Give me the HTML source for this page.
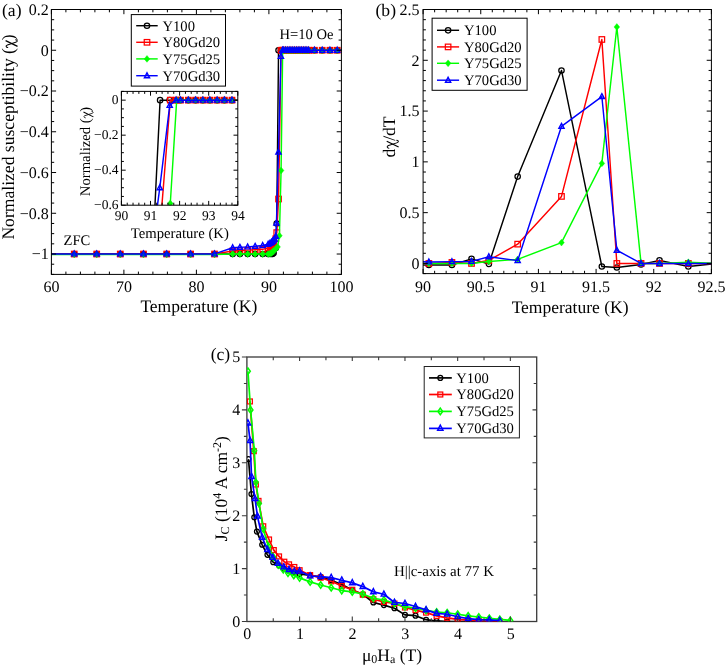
<!DOCTYPE html>
<html><head><meta charset="utf-8"><title>figure</title>
<style>html,body{margin:0;padding:0;background:#fff;}svg{display:block}text{font-family:"Liberation Serif",serif;fill:#000;text-rendering:geometricPrecision}</style>
</head><body>
<svg width="725" height="665" viewBox="0 0 725 665">
<rect width="725" height="665" fill="#fff"/>
<g style="will-change:transform">
<defs>
<clipPath id="ca"><rect x="51.4" y="9.5" width="290.0" height="264.9"/></clipPath>
</defs>
<g clip-path="url(#ca)">
<path d="M29.65 254.02 L74.24 254.02 L96.71 254.02 L120.28 254.02 L143.48 254.02 L166.68 254.02 L190.60 254.02 L214.53 254.02 L232.65 254.02 L239.90 254.02 L247.66 254.02 L255.12 254.02 L262.67 254.02 L268.18 254.02 L269.99 254.02 L271.44 254.02 L272.52 254.02 L273.61 253.00 L275.79 247.91 L276.73 223.46 L278.54 50.25 L280.93 50.25 L282.53 50.25 L283.62 50.25 L285.57 50.25 L287.39 50.25 L289.20 50.25 L290.94 50.25 L292.75 50.25 L294.57 50.25 L296.45 50.25 L298.19 50.25 L299.93 50.25 L301.67 50.25 L303.41 50.25 L305.15 50.25 L306.89 50.25 L308.63 50.25 L314.43 50.25 L322.19 50.25 L329.94 50.25 L337.19 50.25 L345.02 50.25" fill="none" stroke="#000000" stroke-width="1.45" stroke-linejoin="round"/>
<circle cx="29.65" cy="254.02" r="2.70" fill="none" stroke="#000000" stroke-width="1.25"/>
<circle cx="74.24" cy="254.02" r="2.70" fill="none" stroke="#000000" stroke-width="1.25"/>
<circle cx="96.71" cy="254.02" r="2.70" fill="none" stroke="#000000" stroke-width="1.25"/>
<circle cx="120.28" cy="254.02" r="2.70" fill="none" stroke="#000000" stroke-width="1.25"/>
<circle cx="143.48" cy="254.02" r="2.70" fill="none" stroke="#000000" stroke-width="1.25"/>
<circle cx="166.68" cy="254.02" r="2.70" fill="none" stroke="#000000" stroke-width="1.25"/>
<circle cx="190.60" cy="254.02" r="2.70" fill="none" stroke="#000000" stroke-width="1.25"/>
<circle cx="214.53" cy="254.02" r="2.70" fill="none" stroke="#000000" stroke-width="1.25"/>
<circle cx="232.65" cy="254.02" r="2.70" fill="none" stroke="#000000" stroke-width="1.25"/>
<circle cx="239.90" cy="254.02" r="2.70" fill="none" stroke="#000000" stroke-width="1.25"/>
<circle cx="247.66" cy="254.02" r="2.70" fill="none" stroke="#000000" stroke-width="1.25"/>
<circle cx="255.12" cy="254.02" r="2.70" fill="none" stroke="#000000" stroke-width="1.25"/>
<circle cx="262.67" cy="254.02" r="2.70" fill="none" stroke="#000000" stroke-width="1.25"/>
<circle cx="268.18" cy="254.02" r="2.70" fill="none" stroke="#000000" stroke-width="1.25"/>
<circle cx="269.99" cy="254.02" r="2.70" fill="none" stroke="#000000" stroke-width="1.25"/>
<circle cx="271.44" cy="254.02" r="2.70" fill="none" stroke="#000000" stroke-width="1.25"/>
<circle cx="272.52" cy="254.02" r="2.70" fill="none" stroke="#000000" stroke-width="1.25"/>
<circle cx="273.61" cy="253.00" r="2.70" fill="none" stroke="#000000" stroke-width="1.25"/>
<circle cx="275.79" cy="247.91" r="2.70" fill="none" stroke="#000000" stroke-width="1.25"/>
<circle cx="276.73" cy="223.46" r="2.70" fill="none" stroke="#000000" stroke-width="1.25"/>
<circle cx="278.54" cy="50.25" r="2.70" fill="none" stroke="#000000" stroke-width="1.25"/>
<circle cx="280.93" cy="50.25" r="2.70" fill="none" stroke="#000000" stroke-width="1.25"/>
<circle cx="282.53" cy="50.25" r="2.70" fill="none" stroke="#000000" stroke-width="1.25"/>
<circle cx="283.62" cy="50.25" r="2.70" fill="none" stroke="#000000" stroke-width="1.25"/>
<circle cx="285.57" cy="50.25" r="2.70" fill="none" stroke="#000000" stroke-width="1.25"/>
<circle cx="287.39" cy="50.25" r="2.70" fill="none" stroke="#000000" stroke-width="1.25"/>
<circle cx="289.20" cy="50.25" r="2.70" fill="none" stroke="#000000" stroke-width="1.25"/>
<circle cx="290.94" cy="50.25" r="2.70" fill="none" stroke="#000000" stroke-width="1.25"/>
<circle cx="292.75" cy="50.25" r="2.70" fill="none" stroke="#000000" stroke-width="1.25"/>
<circle cx="294.57" cy="50.25" r="2.70" fill="none" stroke="#000000" stroke-width="1.25"/>
<circle cx="296.45" cy="50.25" r="2.70" fill="none" stroke="#000000" stroke-width="1.25"/>
<circle cx="298.19" cy="50.25" r="2.70" fill="none" stroke="#000000" stroke-width="1.25"/>
<circle cx="299.93" cy="50.25" r="2.70" fill="none" stroke="#000000" stroke-width="1.25"/>
<circle cx="301.67" cy="50.25" r="2.70" fill="none" stroke="#000000" stroke-width="1.25"/>
<circle cx="303.41" cy="50.25" r="2.70" fill="none" stroke="#000000" stroke-width="1.25"/>
<circle cx="305.15" cy="50.25" r="2.70" fill="none" stroke="#000000" stroke-width="1.25"/>
<circle cx="306.89" cy="50.25" r="2.70" fill="none" stroke="#000000" stroke-width="1.25"/>
<circle cx="308.63" cy="50.25" r="2.70" fill="none" stroke="#000000" stroke-width="1.25"/>
<circle cx="314.43" cy="50.25" r="2.70" fill="none" stroke="#000000" stroke-width="1.25"/>
<circle cx="322.19" cy="50.25" r="2.70" fill="none" stroke="#000000" stroke-width="1.25"/>
<circle cx="329.94" cy="50.25" r="2.70" fill="none" stroke="#000000" stroke-width="1.25"/>
<circle cx="337.19" cy="50.25" r="2.70" fill="none" stroke="#000000" stroke-width="1.25"/>
<circle cx="345.02" cy="50.25" r="2.70" fill="none" stroke="#000000" stroke-width="1.25"/>
<path d="M29.65 254.02 L74.24 254.02 L96.71 254.02 L120.28 254.02 L143.48 254.02 L166.68 254.02 L190.60 254.02 L214.53 254.02 L232.65 250.97 L239.90 250.56 L247.66 250.15 L255.12 249.74 L262.67 249.34 L268.18 247.91 L269.99 246.89 L271.44 245.87 L272.52 244.85 L273.61 243.83 L275.79 238.74 L276.73 232.63 L278.54 199.01 L281.08 50.25 L282.53 50.25 L283.62 50.25 L285.57 50.25 L287.39 50.25 L289.20 50.25 L290.94 50.25 L292.75 50.25 L294.57 50.25 L296.45 50.25 L298.19 50.25 L299.93 50.25 L301.67 50.25 L303.41 50.25 L305.15 50.25 L306.89 50.25 L308.63 50.25 L314.43 50.25 L322.19 50.25 L329.94 50.25 L337.19 50.25 L345.02 50.25" fill="none" stroke="#ff0000" stroke-width="1.45" stroke-linejoin="round"/>
<rect x="26.90" y="251.27" width="5.50" height="5.50" fill="none" stroke="#ff0000" stroke-width="1.25"/>
<rect x="71.49" y="251.27" width="5.50" height="5.50" fill="none" stroke="#ff0000" stroke-width="1.25"/>
<rect x="93.96" y="251.27" width="5.50" height="5.50" fill="none" stroke="#ff0000" stroke-width="1.25"/>
<rect x="117.53" y="251.27" width="5.50" height="5.50" fill="none" stroke="#ff0000" stroke-width="1.25"/>
<rect x="140.73" y="251.27" width="5.50" height="5.50" fill="none" stroke="#ff0000" stroke-width="1.25"/>
<rect x="163.93" y="251.27" width="5.50" height="5.50" fill="none" stroke="#ff0000" stroke-width="1.25"/>
<rect x="187.85" y="251.27" width="5.50" height="5.50" fill="none" stroke="#ff0000" stroke-width="1.25"/>
<rect x="211.78" y="251.27" width="5.50" height="5.50" fill="none" stroke="#ff0000" stroke-width="1.25"/>
<rect x="229.90" y="248.22" width="5.50" height="5.50" fill="none" stroke="#ff0000" stroke-width="1.25"/>
<rect x="237.15" y="247.81" width="5.50" height="5.50" fill="none" stroke="#ff0000" stroke-width="1.25"/>
<rect x="244.91" y="247.40" width="5.50" height="5.50" fill="none" stroke="#ff0000" stroke-width="1.25"/>
<rect x="252.37" y="246.99" width="5.50" height="5.50" fill="none" stroke="#ff0000" stroke-width="1.25"/>
<rect x="259.92" y="246.59" width="5.50" height="5.50" fill="none" stroke="#ff0000" stroke-width="1.25"/>
<rect x="265.43" y="245.16" width="5.50" height="5.50" fill="none" stroke="#ff0000" stroke-width="1.25"/>
<rect x="267.24" y="244.14" width="5.50" height="5.50" fill="none" stroke="#ff0000" stroke-width="1.25"/>
<rect x="268.69" y="243.12" width="5.50" height="5.50" fill="none" stroke="#ff0000" stroke-width="1.25"/>
<rect x="269.77" y="242.10" width="5.50" height="5.50" fill="none" stroke="#ff0000" stroke-width="1.25"/>
<rect x="270.86" y="241.08" width="5.50" height="5.50" fill="none" stroke="#ff0000" stroke-width="1.25"/>
<rect x="273.04" y="235.99" width="5.50" height="5.50" fill="none" stroke="#ff0000" stroke-width="1.25"/>
<rect x="273.98" y="229.88" width="5.50" height="5.50" fill="none" stroke="#ff0000" stroke-width="1.25"/>
<rect x="275.79" y="196.26" width="5.50" height="5.50" fill="none" stroke="#ff0000" stroke-width="1.25"/>
<rect x="278.33" y="47.50" width="5.50" height="5.50" fill="none" stroke="#ff0000" stroke-width="1.25"/>
<rect x="279.78" y="47.50" width="5.50" height="5.50" fill="none" stroke="#ff0000" stroke-width="1.25"/>
<rect x="280.87" y="47.50" width="5.50" height="5.50" fill="none" stroke="#ff0000" stroke-width="1.25"/>
<rect x="282.82" y="47.50" width="5.50" height="5.50" fill="none" stroke="#ff0000" stroke-width="1.25"/>
<rect x="284.64" y="47.50" width="5.50" height="5.50" fill="none" stroke="#ff0000" stroke-width="1.25"/>
<rect x="286.45" y="47.50" width="5.50" height="5.50" fill="none" stroke="#ff0000" stroke-width="1.25"/>
<rect x="288.19" y="47.50" width="5.50" height="5.50" fill="none" stroke="#ff0000" stroke-width="1.25"/>
<rect x="290.00" y="47.50" width="5.50" height="5.50" fill="none" stroke="#ff0000" stroke-width="1.25"/>
<rect x="291.82" y="47.50" width="5.50" height="5.50" fill="none" stroke="#ff0000" stroke-width="1.25"/>
<rect x="293.70" y="47.50" width="5.50" height="5.50" fill="none" stroke="#ff0000" stroke-width="1.25"/>
<rect x="295.44" y="47.50" width="5.50" height="5.50" fill="none" stroke="#ff0000" stroke-width="1.25"/>
<rect x="297.18" y="47.50" width="5.50" height="5.50" fill="none" stroke="#ff0000" stroke-width="1.25"/>
<rect x="298.92" y="47.50" width="5.50" height="5.50" fill="none" stroke="#ff0000" stroke-width="1.25"/>
<rect x="300.66" y="47.50" width="5.50" height="5.50" fill="none" stroke="#ff0000" stroke-width="1.25"/>
<rect x="302.40" y="47.50" width="5.50" height="5.50" fill="none" stroke="#ff0000" stroke-width="1.25"/>
<rect x="304.14" y="47.50" width="5.50" height="5.50" fill="none" stroke="#ff0000" stroke-width="1.25"/>
<rect x="305.88" y="47.50" width="5.50" height="5.50" fill="none" stroke="#ff0000" stroke-width="1.25"/>
<rect x="311.68" y="47.50" width="5.50" height="5.50" fill="none" stroke="#ff0000" stroke-width="1.25"/>
<rect x="319.44" y="47.50" width="5.50" height="5.50" fill="none" stroke="#ff0000" stroke-width="1.25"/>
<rect x="327.19" y="47.50" width="5.50" height="5.50" fill="none" stroke="#ff0000" stroke-width="1.25"/>
<rect x="334.44" y="47.50" width="5.50" height="5.50" fill="none" stroke="#ff0000" stroke-width="1.25"/>
<rect x="342.27" y="47.50" width="5.50" height="5.50" fill="none" stroke="#ff0000" stroke-width="1.25"/>
<path d="M29.65 254.43 L74.24 254.43 L96.71 254.43 L120.28 254.43 L143.48 254.43 L166.68 254.43 L190.60 254.43 L214.53 254.43 L232.65 254.02 L239.90 254.02 L247.66 254.02 L255.12 254.02 L262.67 254.02 L268.18 254.02 L269.99 253.62 L271.44 253.00 L272.52 251.99 L273.61 250.97 L275.79 248.93 L277.60 246.89 L279.41 235.68 L281.08 170.48 L282.68 50.25 L283.62 50.25 L285.57 50.25 L287.39 50.25 L289.20 50.25 L290.94 50.25 L292.75 50.25 L294.57 50.25 L296.45 50.25 L298.19 50.25 L299.93 50.25 L301.67 50.25 L303.41 50.25 L305.15 50.25 L306.89 50.25 L308.63 50.25 L314.43 50.25 L322.19 50.25 L329.94 50.25 L337.19 50.25 L345.02 50.25" fill="none" stroke="#00ff00" stroke-width="1.45" stroke-linejoin="round"/>
<path d="M29.65 251.03L32.50 254.43L29.65 257.83L26.80 254.43Z" fill="#00ff00" stroke="#00ff00" stroke-width="0.4"/>
<path d="M74.24 251.03L77.09 254.43L74.24 257.83L71.39 254.43Z" fill="#00ff00" stroke="#00ff00" stroke-width="0.4"/>
<path d="M96.71 251.03L99.56 254.43L96.71 257.83L93.86 254.43Z" fill="#00ff00" stroke="#00ff00" stroke-width="0.4"/>
<path d="M120.28 251.03L123.12 254.43L120.28 257.83L117.43 254.43Z" fill="#00ff00" stroke="#00ff00" stroke-width="0.4"/>
<path d="M143.48 251.03L146.33 254.43L143.48 257.83L140.63 254.43Z" fill="#00ff00" stroke="#00ff00" stroke-width="0.4"/>
<path d="M166.68 251.03L169.53 254.43L166.68 257.83L163.83 254.43Z" fill="#00ff00" stroke="#00ff00" stroke-width="0.4"/>
<path d="M190.60 251.03L193.45 254.43L190.60 257.83L187.75 254.43Z" fill="#00ff00" stroke="#00ff00" stroke-width="0.4"/>
<path d="M214.53 251.03L217.38 254.43L214.53 257.83L211.68 254.43Z" fill="#00ff00" stroke="#00ff00" stroke-width="0.4"/>
<path d="M232.65 250.62L235.50 254.02L232.65 257.42L229.80 254.02Z" fill="#00ff00" stroke="#00ff00" stroke-width="0.4"/>
<path d="M239.90 250.62L242.75 254.02L239.90 257.42L237.05 254.02Z" fill="#00ff00" stroke="#00ff00" stroke-width="0.4"/>
<path d="M247.66 250.62L250.51 254.02L247.66 257.42L244.81 254.02Z" fill="#00ff00" stroke="#00ff00" stroke-width="0.4"/>
<path d="M255.12 250.62L257.97 254.02L255.12 257.42L252.27 254.02Z" fill="#00ff00" stroke="#00ff00" stroke-width="0.4"/>
<path d="M262.67 250.62L265.52 254.02L262.67 257.42L259.81 254.02Z" fill="#00ff00" stroke="#00ff00" stroke-width="0.4"/>
<path d="M268.18 250.62L271.03 254.02L268.18 257.42L265.32 254.02Z" fill="#00ff00" stroke="#00ff00" stroke-width="0.4"/>
<path d="M269.99 250.22L272.84 253.62L269.99 257.02L267.14 253.62Z" fill="#00ff00" stroke="#00ff00" stroke-width="0.4"/>
<path d="M271.44 249.60L274.29 253.00L271.44 256.40L268.59 253.00Z" fill="#00ff00" stroke="#00ff00" stroke-width="0.4"/>
<path d="M272.52 248.59L275.38 251.99L272.52 255.39L269.67 251.99Z" fill="#00ff00" stroke="#00ff00" stroke-width="0.4"/>
<path d="M273.61 247.57L276.46 250.97L273.61 254.37L270.76 250.97Z" fill="#00ff00" stroke="#00ff00" stroke-width="0.4"/>
<path d="M275.79 245.53L278.64 248.93L275.79 252.33L272.94 248.93Z" fill="#00ff00" stroke="#00ff00" stroke-width="0.4"/>
<path d="M277.60 243.49L280.45 246.89L277.60 250.29L274.75 246.89Z" fill="#00ff00" stroke="#00ff00" stroke-width="0.4"/>
<path d="M279.41 232.28L282.26 235.68L279.41 239.08L276.56 235.68Z" fill="#00ff00" stroke="#00ff00" stroke-width="0.4"/>
<path d="M281.08 167.08L283.93 170.48L281.08 173.88L278.23 170.48Z" fill="#00ff00" stroke="#00ff00" stroke-width="0.4"/>
<path d="M282.68 46.85L285.53 50.25L282.68 53.65L279.82 50.25Z" fill="#00ff00" stroke="#00ff00" stroke-width="0.4"/>
<path d="M283.62 46.85L286.47 50.25L283.62 53.65L280.77 50.25Z" fill="#00ff00" stroke="#00ff00" stroke-width="0.4"/>
<path d="M285.57 46.85L288.42 50.25L285.57 53.65L282.72 50.25Z" fill="#00ff00" stroke="#00ff00" stroke-width="0.4"/>
<path d="M287.39 46.85L290.24 50.25L287.39 53.65L284.54 50.25Z" fill="#00ff00" stroke="#00ff00" stroke-width="0.4"/>
<path d="M289.20 46.85L292.05 50.25L289.20 53.65L286.35 50.25Z" fill="#00ff00" stroke="#00ff00" stroke-width="0.4"/>
<path d="M290.94 46.85L293.79 50.25L290.94 53.65L288.09 50.25Z" fill="#00ff00" stroke="#00ff00" stroke-width="0.4"/>
<path d="M292.75 46.85L295.60 50.25L292.75 53.65L289.90 50.25Z" fill="#00ff00" stroke="#00ff00" stroke-width="0.4"/>
<path d="M294.57 46.85L297.42 50.25L294.57 53.65L291.72 50.25Z" fill="#00ff00" stroke="#00ff00" stroke-width="0.4"/>
<path d="M296.45 46.85L299.30 50.25L296.45 53.65L293.60 50.25Z" fill="#00ff00" stroke="#00ff00" stroke-width="0.4"/>
<path d="M298.19 46.85L301.04 50.25L298.19 53.65L295.34 50.25Z" fill="#00ff00" stroke="#00ff00" stroke-width="0.4"/>
<path d="M299.93 46.85L302.78 50.25L299.93 53.65L297.08 50.25Z" fill="#00ff00" stroke="#00ff00" stroke-width="0.4"/>
<path d="M301.67 46.85L304.52 50.25L301.67 53.65L298.82 50.25Z" fill="#00ff00" stroke="#00ff00" stroke-width="0.4"/>
<path d="M303.41 46.85L306.26 50.25L303.41 53.65L300.56 50.25Z" fill="#00ff00" stroke="#00ff00" stroke-width="0.4"/>
<path d="M305.15 46.85L308.00 50.25L305.15 53.65L302.30 50.25Z" fill="#00ff00" stroke="#00ff00" stroke-width="0.4"/>
<path d="M306.89 46.85L309.74 50.25L306.89 53.65L304.04 50.25Z" fill="#00ff00" stroke="#00ff00" stroke-width="0.4"/>
<path d="M308.63 46.85L311.48 50.25L308.63 53.65L305.78 50.25Z" fill="#00ff00" stroke="#00ff00" stroke-width="0.4"/>
<path d="M314.43 46.85L317.28 50.25L314.43 53.65L311.58 50.25Z" fill="#00ff00" stroke="#00ff00" stroke-width="0.4"/>
<path d="M322.19 46.85L325.04 50.25L322.19 53.65L319.34 50.25Z" fill="#00ff00" stroke="#00ff00" stroke-width="0.4"/>
<path d="M329.94 46.85L332.80 50.25L329.94 53.65L327.09 50.25Z" fill="#00ff00" stroke="#00ff00" stroke-width="0.4"/>
<path d="M337.19 46.85L340.05 50.25L337.19 53.65L334.34 50.25Z" fill="#00ff00" stroke="#00ff00" stroke-width="0.4"/>
<path d="M345.02 46.85L347.88 50.25L345.02 53.65L342.17 50.25Z" fill="#00ff00" stroke="#00ff00" stroke-width="0.4"/>
<path d="M29.65 253.92 L74.24 253.92 L96.71 253.92 L120.28 253.92 L143.48 253.92 L166.68 253.92 L190.60 253.92 L214.53 253.92 L232.65 247.71 L239.90 247.30 L247.66 246.89 L255.12 246.28 L262.67 245.46 L268.18 244.24 L269.99 243.22 L271.44 242.20 L272.52 241.19 L273.61 240.17 L274.70 238.94 L275.79 236.30 L276.44 223.05 L278.47 152.14 L280.93 56.37 L282.53 50.25 L283.62 50.25 L285.57 50.25 L287.39 50.25 L289.20 50.25 L290.94 50.25 L292.75 50.25 L294.57 50.25 L296.45 50.25 L298.19 50.25 L299.93 50.25 L301.67 50.25 L303.41 50.25 L305.15 50.25 L306.89 50.25 L308.63 50.25 L314.43 50.25 L322.19 50.25 L329.94 50.25 L337.19 50.25 L345.02 50.25" fill="none" stroke="#0000ff" stroke-width="1.45" stroke-linejoin="round"/>
<path d="M29.65 251.02L32.25 255.92L27.05 255.92Z" fill="none" stroke="#0000ff" stroke-width="1.4" stroke-linejoin="miter"/>
<path d="M74.24 251.02L76.84 255.92L71.64 255.92Z" fill="none" stroke="#0000ff" stroke-width="1.4" stroke-linejoin="miter"/>
<path d="M96.71 251.02L99.31 255.92L94.11 255.92Z" fill="none" stroke="#0000ff" stroke-width="1.4" stroke-linejoin="miter"/>
<path d="M120.28 251.02L122.88 255.92L117.68 255.92Z" fill="none" stroke="#0000ff" stroke-width="1.4" stroke-linejoin="miter"/>
<path d="M143.48 251.02L146.08 255.92L140.88 255.92Z" fill="none" stroke="#0000ff" stroke-width="1.4" stroke-linejoin="miter"/>
<path d="M166.68 251.02L169.28 255.92L164.08 255.92Z" fill="none" stroke="#0000ff" stroke-width="1.4" stroke-linejoin="miter"/>
<path d="M190.60 251.02L193.20 255.92L188.00 255.92Z" fill="none" stroke="#0000ff" stroke-width="1.4" stroke-linejoin="miter"/>
<path d="M214.53 251.02L217.12 255.92L211.93 255.92Z" fill="none" stroke="#0000ff" stroke-width="1.4" stroke-linejoin="miter"/>
<path d="M232.65 244.81L235.25 249.71L230.05 249.71Z" fill="none" stroke="#0000ff" stroke-width="1.4" stroke-linejoin="miter"/>
<path d="M239.90 244.40L242.50 249.30L237.30 249.30Z" fill="none" stroke="#0000ff" stroke-width="1.4" stroke-linejoin="miter"/>
<path d="M247.66 243.99L250.26 248.89L245.06 248.89Z" fill="none" stroke="#0000ff" stroke-width="1.4" stroke-linejoin="miter"/>
<path d="M255.12 243.38L257.72 248.28L252.52 248.28Z" fill="none" stroke="#0000ff" stroke-width="1.4" stroke-linejoin="miter"/>
<path d="M262.67 242.56L265.27 247.46L260.06 247.46Z" fill="none" stroke="#0000ff" stroke-width="1.4" stroke-linejoin="miter"/>
<path d="M268.18 241.34L270.78 246.24L265.57 246.24Z" fill="none" stroke="#0000ff" stroke-width="1.4" stroke-linejoin="miter"/>
<path d="M269.99 240.32L272.59 245.22L267.39 245.22Z" fill="none" stroke="#0000ff" stroke-width="1.4" stroke-linejoin="miter"/>
<path d="M271.44 239.30L274.04 244.20L268.84 244.20Z" fill="none" stroke="#0000ff" stroke-width="1.4" stroke-linejoin="miter"/>
<path d="M272.52 238.29L275.12 243.19L269.92 243.19Z" fill="none" stroke="#0000ff" stroke-width="1.4" stroke-linejoin="miter"/>
<path d="M273.61 237.27L276.21 242.17L271.01 242.17Z" fill="none" stroke="#0000ff" stroke-width="1.4" stroke-linejoin="miter"/>
<path d="M274.70 236.04L277.30 240.94L272.10 240.94Z" fill="none" stroke="#0000ff" stroke-width="1.4" stroke-linejoin="miter"/>
<path d="M275.79 233.40L278.39 238.30L273.19 238.30Z" fill="none" stroke="#0000ff" stroke-width="1.4" stroke-linejoin="miter"/>
<path d="M276.44 220.15L279.04 225.05L273.84 225.05Z" fill="none" stroke="#0000ff" stroke-width="1.4" stroke-linejoin="miter"/>
<path d="M278.47 149.24L281.07 154.14L275.87 154.14Z" fill="none" stroke="#0000ff" stroke-width="1.4" stroke-linejoin="miter"/>
<path d="M280.93 53.47L283.53 58.37L278.33 58.37Z" fill="none" stroke="#0000ff" stroke-width="1.4" stroke-linejoin="miter"/>
<path d="M282.53 47.35L285.13 52.25L279.93 52.25Z" fill="none" stroke="#0000ff" stroke-width="1.4" stroke-linejoin="miter"/>
<path d="M283.62 47.35L286.22 52.25L281.02 52.25Z" fill="none" stroke="#0000ff" stroke-width="1.4" stroke-linejoin="miter"/>
<path d="M285.57 47.35L288.17 52.25L282.97 52.25Z" fill="none" stroke="#0000ff" stroke-width="1.4" stroke-linejoin="miter"/>
<path d="M287.39 47.35L289.99 52.25L284.79 52.25Z" fill="none" stroke="#0000ff" stroke-width="1.4" stroke-linejoin="miter"/>
<path d="M289.20 47.35L291.80 52.25L286.60 52.25Z" fill="none" stroke="#0000ff" stroke-width="1.4" stroke-linejoin="miter"/>
<path d="M290.94 47.35L293.54 52.25L288.34 52.25Z" fill="none" stroke="#0000ff" stroke-width="1.4" stroke-linejoin="miter"/>
<path d="M292.75 47.35L295.35 52.25L290.15 52.25Z" fill="none" stroke="#0000ff" stroke-width="1.4" stroke-linejoin="miter"/>
<path d="M294.57 47.35L297.17 52.25L291.97 52.25Z" fill="none" stroke="#0000ff" stroke-width="1.4" stroke-linejoin="miter"/>
<path d="M296.45 47.35L299.05 52.25L293.85 52.25Z" fill="none" stroke="#0000ff" stroke-width="1.4" stroke-linejoin="miter"/>
<path d="M298.19 47.35L300.79 52.25L295.59 52.25Z" fill="none" stroke="#0000ff" stroke-width="1.4" stroke-linejoin="miter"/>
<path d="M299.93 47.35L302.53 52.25L297.33 52.25Z" fill="none" stroke="#0000ff" stroke-width="1.4" stroke-linejoin="miter"/>
<path d="M301.67 47.35L304.27 52.25L299.07 52.25Z" fill="none" stroke="#0000ff" stroke-width="1.4" stroke-linejoin="miter"/>
<path d="M303.41 47.35L306.01 52.25L300.81 52.25Z" fill="none" stroke="#0000ff" stroke-width="1.4" stroke-linejoin="miter"/>
<path d="M305.15 47.35L307.75 52.25L302.55 52.25Z" fill="none" stroke="#0000ff" stroke-width="1.4" stroke-linejoin="miter"/>
<path d="M306.89 47.35L309.49 52.25L304.29 52.25Z" fill="none" stroke="#0000ff" stroke-width="1.4" stroke-linejoin="miter"/>
<path d="M308.63 47.35L311.23 52.25L306.03 52.25Z" fill="none" stroke="#0000ff" stroke-width="1.4" stroke-linejoin="miter"/>
<path d="M314.43 47.35L317.03 52.25L311.83 52.25Z" fill="none" stroke="#0000ff" stroke-width="1.4" stroke-linejoin="miter"/>
<path d="M322.19 47.35L324.79 52.25L319.59 52.25Z" fill="none" stroke="#0000ff" stroke-width="1.4" stroke-linejoin="miter"/>
<path d="M329.94 47.35L332.55 52.25L327.34 52.25Z" fill="none" stroke="#0000ff" stroke-width="1.4" stroke-linejoin="miter"/>
<path d="M337.19 47.35L339.80 52.25L334.59 52.25Z" fill="none" stroke="#0000ff" stroke-width="1.4" stroke-linejoin="miter"/>
<path d="M345.02 47.35L347.62 52.25L342.42 52.25Z" fill="none" stroke="#0000ff" stroke-width="1.4" stroke-linejoin="miter"/>
</g>
<rect x="51.4" y="9.5" width="290.0" height="264.9" fill="none" stroke="#000" stroke-width="1.0"/>
<path d="M65.90 274.4v-2.8M65.90 9.5v2.8M80.40 274.4v-2.8M80.40 9.5v2.8M94.90 274.4v-2.8M94.90 9.5v2.8M109.40 274.4v-2.8M109.40 9.5v2.8M138.40 274.4v-2.8M138.40 9.5v2.8M152.90 274.4v-2.8M152.90 9.5v2.8M167.40 274.4v-2.8M167.40 9.5v2.8M181.90 274.4v-2.8M181.90 9.5v2.8M210.90 274.4v-2.8M210.90 9.5v2.8M225.40 274.4v-2.8M225.40 9.5v2.8M239.90 274.4v-2.8M239.90 9.5v2.8M254.40 274.4v-2.8M254.40 9.5v2.8M283.40 274.4v-2.8M283.40 9.5v2.8M297.90 274.4v-2.8M297.90 9.5v2.8M312.40 274.4v-2.8M312.40 9.5v2.8M326.90 274.4v-2.8M326.90 9.5v2.8M51.40 274.4v-4.7M51.40 9.5v4.7M123.90 274.4v-4.7M123.90 9.5v4.7M196.40 274.4v-4.7M196.40 9.5v4.7M268.90 274.4v-4.7M268.90 9.5v4.7M341.40 274.4v-4.7M341.40 9.5v4.7M51.4 274.40h2.8M341.4 274.40h-2.8M51.4 264.21h2.8M341.4 264.21h-2.8M51.4 243.83h2.8M341.4 243.83h-2.8M51.4 233.65h2.8M341.4 233.65h-2.8M51.4 223.46h2.8M341.4 223.46h-2.8M51.4 203.08h2.8M341.4 203.08h-2.8M51.4 192.89h2.8M341.4 192.89h-2.8M51.4 182.70h2.8M341.4 182.70h-2.8M51.4 162.33h2.8M341.4 162.33h-2.8M51.4 152.14h2.8M341.4 152.14h-2.8M51.4 141.95h2.8M341.4 141.95h-2.8M51.4 121.57h2.8M341.4 121.57h-2.8M51.4 111.38h2.8M341.4 111.38h-2.8M51.4 101.20h2.8M341.4 101.20h-2.8M51.4 80.82h2.8M341.4 80.82h-2.8M51.4 70.63h2.8M341.4 70.63h-2.8M51.4 60.44h2.8M341.4 60.44h-2.8M51.4 40.07h2.8M341.4 40.07h-2.8M51.4 29.88h2.8M341.4 29.88h-2.8M51.4 19.69h2.8M341.4 19.69h-2.8M51.4 254.02h4.7M341.4 254.02h-4.7M51.4 213.27h4.7M341.4 213.27h-4.7M51.4 172.52h4.7M341.4 172.52h-4.7M51.4 131.76h4.7M341.4 131.76h-4.7M51.4 91.01h4.7M341.4 91.01h-4.7M51.4 50.25h4.7M341.4 50.25h-4.7M51.4 9.50h4.7M341.4 9.50h-4.7" stroke="#000" stroke-width="1.0" fill="none"/>
<text x="51.40" y="292.20" font-size="16" text-anchor="middle" >60</text>
<text x="123.90" y="292.20" font-size="16" text-anchor="middle" >70</text>
<text x="196.40" y="292.20" font-size="16" text-anchor="middle" >80</text>
<text x="268.90" y="292.20" font-size="16" text-anchor="middle" >90</text>
<text x="341.40" y="292.20" font-size="16" text-anchor="middle" >100</text>
<text x="48.80" y="259.32" font-size="16" text-anchor="end" >−1</text>
<text x="48.80" y="218.57" font-size="16" text-anchor="end" >−0.8</text>
<text x="48.80" y="177.82" font-size="16" text-anchor="end" >−0.6</text>
<text x="48.80" y="137.06" font-size="16" text-anchor="end" >−0.4</text>
<text x="48.80" y="96.31" font-size="16" text-anchor="end" >−0.2</text>
<text x="48.80" y="55.55" font-size="16" text-anchor="end" >0</text>
<text x="48.80" y="14.80" font-size="16" text-anchor="end" >0.2</text>
<text x="198.80" y="312.40" font-size="17.5" text-anchor="middle" >Temperature (K)</text>
<g transform="translate(13.90 137.00) rotate(-90)">
<text x="-102.60" y="0" font-size="17.6" style="white-space:pre" xml:space="preserve">Normalized susceptibility (</text>
<path d="M96.39 -8.27L90.58 3.61" stroke="#000" stroke-width="1.23" fill="none"/><path d="M89.43 -6.07C89.52 -7.74 91.28 -8.80 92.07 -6.51L94.71 1.76C95.33 3.87 96.91 3.87 97.27 1.76" stroke="#000" stroke-width="1.02" fill="none" stroke-linecap="round"/>
<text x="96.74" y="0" font-size="17.6">)</text>
</g>
<text x="2.00" y="15.90" font-size="17.6" text-anchor="start" >(a)</text>
<text x="279.50" y="38.80" font-size="14.6" text-anchor="start" >H=10 Oe</text>
<text x="63.50" y="245.10" font-size="14.6" text-anchor="start" >ZFC</text>
<rect x="131.3" y="14.6" width="94.19999999999999" height="71.5" fill="#fff" stroke="#000" stroke-width="1"/>
<path d="M136.2 25.7H157.7" stroke="#000000" stroke-width="1.45"/>
<circle cx="147.00" cy="25.70" r="2.70" fill="none" stroke="#000000" stroke-width="1.25"/>
<text x="162.50" y="30.60" font-size="14.6" text-anchor="start" >Y100</text>
<path d="M136.2 42.3H157.7" stroke="#ff0000" stroke-width="1.45"/>
<rect x="144.25" y="39.55" width="5.50" height="5.50" fill="none" stroke="#ff0000" stroke-width="1.25"/>
<text x="162.50" y="47.20" font-size="14.6" text-anchor="start" >Y80Gd20</text>
<path d="M136.2 58.9H157.7" stroke="#00ff00" stroke-width="1.45"/>
<path d="M147.00 55.50L149.85 58.90L147.00 62.30L144.15 58.90Z" fill="#00ff00" stroke="#00ff00" stroke-width="0.4"/>
<text x="162.50" y="63.80" font-size="14.6" text-anchor="start" >Y75Gd25</text>
<path d="M136.2 75.7H157.7" stroke="#0000ff" stroke-width="1.45"/>
<path d="M147.00 72.80L149.60 77.70L144.40 77.70Z" fill="none" stroke="#0000ff" stroke-width="1.4" stroke-linejoin="miter"/>
<text x="162.50" y="80.60" font-size="14.6" text-anchor="start" >Y70Gd30</text>
<defs>
<clipPath id="ci"><rect x="121.4" y="91.4" width="116.4" height="113.79999999999998"/></clipPath>
</defs>
<rect x="121.4" y="91.4" width="116.4" height="113.79999999999998" fill="#fff"/>
<path d="M231.98 100.15H237.8" stroke="#000" stroke-width="1.45"/>
<g clip-path="url(#ci)">
<path d="M-838.90 275.23 L-659.94 275.23 L-569.73 275.23 L-475.15 275.23 L-382.03 275.23 L-288.91 275.23 L-192.88 275.23 L-96.85 275.23 L-24.10 275.23 L5.00 275.23 L36.14 275.23 L66.11 275.23 L96.37 275.23 L118.49 275.23 L125.77 275.23 L131.58 275.23 L135.95 275.23 L140.32 274.36 L149.05 269.98 L152.83 248.97 L160.10 100.15 L169.71 100.15 L176.11 100.15 L180.47 100.15 L188.33 100.15 L195.60 100.15 L202.88 100.15 L209.86 100.15 L217.14 100.15 L224.41 100.15 L231.98 100.15" fill="none" stroke="#000000" stroke-width="1.45" stroke-linejoin="round"/>
<circle cx="-838.90" cy="275.23" r="2.70" fill="none" stroke="#000000" stroke-width="1.25"/>
<circle cx="-659.94" cy="275.23" r="2.70" fill="none" stroke="#000000" stroke-width="1.25"/>
<circle cx="-569.73" cy="275.23" r="2.70" fill="none" stroke="#000000" stroke-width="1.25"/>
<circle cx="-475.15" cy="275.23" r="2.70" fill="none" stroke="#000000" stroke-width="1.25"/>
<circle cx="-382.03" cy="275.23" r="2.70" fill="none" stroke="#000000" stroke-width="1.25"/>
<circle cx="-288.91" cy="275.23" r="2.70" fill="none" stroke="#000000" stroke-width="1.25"/>
<circle cx="-192.88" cy="275.23" r="2.70" fill="none" stroke="#000000" stroke-width="1.25"/>
<circle cx="-96.85" cy="275.23" r="2.70" fill="none" stroke="#000000" stroke-width="1.25"/>
<circle cx="-24.10" cy="275.23" r="2.70" fill="none" stroke="#000000" stroke-width="1.25"/>
<circle cx="5.00" cy="275.23" r="2.70" fill="none" stroke="#000000" stroke-width="1.25"/>
<circle cx="36.14" cy="275.23" r="2.70" fill="none" stroke="#000000" stroke-width="1.25"/>
<circle cx="66.11" cy="275.23" r="2.70" fill="none" stroke="#000000" stroke-width="1.25"/>
<circle cx="96.37" cy="275.23" r="2.70" fill="none" stroke="#000000" stroke-width="1.25"/>
<circle cx="118.49" cy="275.23" r="2.70" fill="none" stroke="#000000" stroke-width="1.25"/>
<circle cx="125.77" cy="275.23" r="2.70" fill="none" stroke="#000000" stroke-width="1.25"/>
<circle cx="131.58" cy="275.23" r="2.70" fill="none" stroke="#000000" stroke-width="1.25"/>
<circle cx="135.95" cy="275.23" r="2.70" fill="none" stroke="#000000" stroke-width="1.25"/>
<circle cx="140.32" cy="274.36" r="2.70" fill="none" stroke="#000000" stroke-width="1.25"/>
<circle cx="149.05" cy="269.98" r="2.70" fill="none" stroke="#000000" stroke-width="1.25"/>
<circle cx="152.83" cy="248.97" r="2.70" fill="none" stroke="#000000" stroke-width="1.25"/>
<circle cx="160.10" cy="100.15" r="2.70" fill="none" stroke="#000000" stroke-width="1.25"/>
<circle cx="169.71" cy="100.15" r="2.70" fill="none" stroke="#000000" stroke-width="1.25"/>
<circle cx="176.11" cy="100.15" r="2.70" fill="none" stroke="#000000" stroke-width="1.25"/>
<circle cx="180.47" cy="100.15" r="2.70" fill="none" stroke="#000000" stroke-width="1.25"/>
<circle cx="188.33" cy="100.15" r="2.70" fill="none" stroke="#000000" stroke-width="1.25"/>
<circle cx="195.60" cy="100.15" r="2.70" fill="none" stroke="#000000" stroke-width="1.25"/>
<circle cx="202.88" cy="100.15" r="2.70" fill="none" stroke="#000000" stroke-width="1.25"/>
<circle cx="209.86" cy="100.15" r="2.70" fill="none" stroke="#000000" stroke-width="1.25"/>
<circle cx="217.14" cy="100.15" r="2.70" fill="none" stroke="#000000" stroke-width="1.25"/>
<circle cx="224.41" cy="100.15" r="2.70" fill="none" stroke="#000000" stroke-width="1.25"/>
<circle cx="231.98" cy="100.15" r="2.70" fill="none" stroke="#000000" stroke-width="1.25"/>
<path d="M-838.90 275.23 L-659.94 275.23 L-569.73 275.23 L-475.15 275.23 L-382.03 275.23 L-288.91 275.23 L-192.88 275.23 L-96.85 275.23 L-24.10 272.60 L5.00 272.25 L36.14 271.90 L66.11 271.55 L96.37 271.20 L118.49 269.98 L125.77 269.10 L131.58 268.23 L135.95 267.35 L140.32 266.48 L149.05 262.10 L152.83 256.85 L160.10 227.96 L170.29 100.15 L176.11 100.15 L180.47 100.15 L188.33 100.15 L195.60 100.15 L202.88 100.15 L209.86 100.15 L217.14 100.15 L224.41 100.15 L231.98 100.15" fill="none" stroke="#ff0000" stroke-width="1.45" stroke-linejoin="round"/>
<rect x="-841.65" y="272.48" width="5.50" height="5.50" fill="none" stroke="#ff0000" stroke-width="1.25"/>
<rect x="-662.69" y="272.48" width="5.50" height="5.50" fill="none" stroke="#ff0000" stroke-width="1.25"/>
<rect x="-572.48" y="272.48" width="5.50" height="5.50" fill="none" stroke="#ff0000" stroke-width="1.25"/>
<rect x="-477.90" y="272.48" width="5.50" height="5.50" fill="none" stroke="#ff0000" stroke-width="1.25"/>
<rect x="-384.78" y="272.48" width="5.50" height="5.50" fill="none" stroke="#ff0000" stroke-width="1.25"/>
<rect x="-291.66" y="272.48" width="5.50" height="5.50" fill="none" stroke="#ff0000" stroke-width="1.25"/>
<rect x="-195.63" y="272.48" width="5.50" height="5.50" fill="none" stroke="#ff0000" stroke-width="1.25"/>
<rect x="-99.60" y="272.48" width="5.50" height="5.50" fill="none" stroke="#ff0000" stroke-width="1.25"/>
<rect x="-26.85" y="269.85" width="5.50" height="5.50" fill="none" stroke="#ff0000" stroke-width="1.25"/>
<rect x="2.25" y="269.50" width="5.50" height="5.50" fill="none" stroke="#ff0000" stroke-width="1.25"/>
<rect x="33.39" y="269.15" width="5.50" height="5.50" fill="none" stroke="#ff0000" stroke-width="1.25"/>
<rect x="63.36" y="268.80" width="5.50" height="5.50" fill="none" stroke="#ff0000" stroke-width="1.25"/>
<rect x="93.62" y="268.45" width="5.50" height="5.50" fill="none" stroke="#ff0000" stroke-width="1.25"/>
<rect x="115.74" y="267.23" width="5.50" height="5.50" fill="none" stroke="#ff0000" stroke-width="1.25"/>
<rect x="123.02" y="266.35" width="5.50" height="5.50" fill="none" stroke="#ff0000" stroke-width="1.25"/>
<rect x="128.83" y="265.48" width="5.50" height="5.50" fill="none" stroke="#ff0000" stroke-width="1.25"/>
<rect x="133.20" y="264.60" width="5.50" height="5.50" fill="none" stroke="#ff0000" stroke-width="1.25"/>
<rect x="137.57" y="263.73" width="5.50" height="5.50" fill="none" stroke="#ff0000" stroke-width="1.25"/>
<rect x="146.30" y="259.35" width="5.50" height="5.50" fill="none" stroke="#ff0000" stroke-width="1.25"/>
<rect x="150.08" y="254.10" width="5.50" height="5.50" fill="none" stroke="#ff0000" stroke-width="1.25"/>
<rect x="157.35" y="225.21" width="5.50" height="5.50" fill="none" stroke="#ff0000" stroke-width="1.25"/>
<rect x="167.54" y="97.40" width="5.50" height="5.50" fill="none" stroke="#ff0000" stroke-width="1.25"/>
<rect x="173.36" y="97.40" width="5.50" height="5.50" fill="none" stroke="#ff0000" stroke-width="1.25"/>
<rect x="177.72" y="97.40" width="5.50" height="5.50" fill="none" stroke="#ff0000" stroke-width="1.25"/>
<rect x="185.58" y="97.40" width="5.50" height="5.50" fill="none" stroke="#ff0000" stroke-width="1.25"/>
<rect x="192.85" y="97.40" width="5.50" height="5.50" fill="none" stroke="#ff0000" stroke-width="1.25"/>
<rect x="200.13" y="97.40" width="5.50" height="5.50" fill="none" stroke="#ff0000" stroke-width="1.25"/>
<rect x="207.11" y="97.40" width="5.50" height="5.50" fill="none" stroke="#ff0000" stroke-width="1.25"/>
<rect x="214.39" y="97.40" width="5.50" height="5.50" fill="none" stroke="#ff0000" stroke-width="1.25"/>
<rect x="221.66" y="97.40" width="5.50" height="5.50" fill="none" stroke="#ff0000" stroke-width="1.25"/>
<rect x="229.23" y="97.40" width="5.50" height="5.50" fill="none" stroke="#ff0000" stroke-width="1.25"/>
<path d="M-838.90 275.58 L-659.94 275.58 L-569.73 275.58 L-475.15 275.58 L-382.03 275.58 L-288.91 275.58 L-192.88 275.58 L-96.85 275.58 L-24.10 275.23 L5.00 275.23 L36.14 275.23 L66.11 275.23 L96.37 275.23 L118.49 275.23 L125.77 274.88 L131.58 274.36 L135.95 273.48 L140.32 272.60 L149.05 270.85 L156.32 269.10 L163.60 259.47 L170.29 203.45 L176.69 100.15 L180.47 100.15 L188.33 100.15 L195.60 100.15 L202.88 100.15 L209.86 100.15 L217.14 100.15 L224.41 100.15 L231.98 100.15" fill="none" stroke="#00ff00" stroke-width="1.45" stroke-linejoin="round"/>
<path d="M-838.90 272.18L-836.05 275.58L-838.90 278.98L-841.75 275.58Z" fill="#00ff00" stroke="#00ff00" stroke-width="0.4"/>
<path d="M-659.94 272.18L-657.09 275.58L-659.94 278.98L-662.79 275.58Z" fill="#00ff00" stroke="#00ff00" stroke-width="0.4"/>
<path d="M-569.73 272.18L-566.88 275.58L-569.73 278.98L-572.58 275.58Z" fill="#00ff00" stroke="#00ff00" stroke-width="0.4"/>
<path d="M-475.15 272.18L-472.30 275.58L-475.15 278.98L-478.00 275.58Z" fill="#00ff00" stroke="#00ff00" stroke-width="0.4"/>
<path d="M-382.03 272.18L-379.18 275.58L-382.03 278.98L-384.88 275.58Z" fill="#00ff00" stroke="#00ff00" stroke-width="0.4"/>
<path d="M-288.91 272.18L-286.06 275.58L-288.91 278.98L-291.76 275.58Z" fill="#00ff00" stroke="#00ff00" stroke-width="0.4"/>
<path d="M-192.88 272.18L-190.03 275.58L-192.88 278.98L-195.73 275.58Z" fill="#00ff00" stroke="#00ff00" stroke-width="0.4"/>
<path d="M-96.85 272.18L-94.00 275.58L-96.85 278.98L-99.70 275.58Z" fill="#00ff00" stroke="#00ff00" stroke-width="0.4"/>
<path d="M-24.10 271.83L-21.25 275.23L-24.10 278.63L-26.95 275.23Z" fill="#00ff00" stroke="#00ff00" stroke-width="0.4"/>
<path d="M5.00 271.83L7.85 275.23L5.00 278.63L2.15 275.23Z" fill="#00ff00" stroke="#00ff00" stroke-width="0.4"/>
<path d="M36.14 271.83L38.99 275.23L36.14 278.63L33.29 275.23Z" fill="#00ff00" stroke="#00ff00" stroke-width="0.4"/>
<path d="M66.11 271.83L68.96 275.23L66.11 278.63L63.26 275.23Z" fill="#00ff00" stroke="#00ff00" stroke-width="0.4"/>
<path d="M96.37 271.83L99.22 275.23L96.37 278.63L93.52 275.23Z" fill="#00ff00" stroke="#00ff00" stroke-width="0.4"/>
<path d="M118.49 271.83L121.34 275.23L118.49 278.63L115.64 275.23Z" fill="#00ff00" stroke="#00ff00" stroke-width="0.4"/>
<path d="M125.77 271.48L128.62 274.88L125.77 278.28L122.92 274.88Z" fill="#00ff00" stroke="#00ff00" stroke-width="0.4"/>
<path d="M131.58 270.96L134.43 274.36L131.58 277.76L128.73 274.36Z" fill="#00ff00" stroke="#00ff00" stroke-width="0.4"/>
<path d="M135.95 270.08L138.80 273.48L135.95 276.88L133.10 273.48Z" fill="#00ff00" stroke="#00ff00" stroke-width="0.4"/>
<path d="M140.32 269.20L143.17 272.60L140.32 276.00L137.47 272.60Z" fill="#00ff00" stroke="#00ff00" stroke-width="0.4"/>
<path d="M149.05 267.45L151.90 270.85L149.05 274.25L146.20 270.85Z" fill="#00ff00" stroke="#00ff00" stroke-width="0.4"/>
<path d="M156.32 265.70L159.17 269.10L156.32 272.50L153.47 269.10Z" fill="#00ff00" stroke="#00ff00" stroke-width="0.4"/>
<path d="M163.60 256.07L166.45 259.47L163.60 262.87L160.75 259.47Z" fill="#00ff00" stroke="#00ff00" stroke-width="0.4"/>
<path d="M170.29 200.05L173.14 203.45L170.29 206.85L167.44 203.45Z" fill="#00ff00" stroke="#00ff00" stroke-width="0.4"/>
<path d="M176.69 96.75L179.54 100.15L176.69 103.55L173.84 100.15Z" fill="#00ff00" stroke="#00ff00" stroke-width="0.4"/>
<path d="M180.47 96.75L183.32 100.15L180.47 103.55L177.62 100.15Z" fill="#00ff00" stroke="#00ff00" stroke-width="0.4"/>
<path d="M188.33 96.75L191.18 100.15L188.33 103.55L185.48 100.15Z" fill="#00ff00" stroke="#00ff00" stroke-width="0.4"/>
<path d="M195.60 96.75L198.45 100.15L195.60 103.55L192.75 100.15Z" fill="#00ff00" stroke="#00ff00" stroke-width="0.4"/>
<path d="M202.88 96.75L205.73 100.15L202.88 103.55L200.03 100.15Z" fill="#00ff00" stroke="#00ff00" stroke-width="0.4"/>
<path d="M209.86 96.75L212.71 100.15L209.86 103.55L207.01 100.15Z" fill="#00ff00" stroke="#00ff00" stroke-width="0.4"/>
<path d="M217.14 96.75L219.99 100.15L217.14 103.55L214.29 100.15Z" fill="#00ff00" stroke="#00ff00" stroke-width="0.4"/>
<path d="M224.41 96.75L227.26 100.15L224.41 103.55L221.56 100.15Z" fill="#00ff00" stroke="#00ff00" stroke-width="0.4"/>
<path d="M231.98 96.75L234.83 100.15L231.98 103.55L229.13 100.15Z" fill="#00ff00" stroke="#00ff00" stroke-width="0.4"/>
<path d="M-838.90 275.14 L-659.94 275.14 L-569.73 275.14 L-475.15 275.14 L-382.03 275.14 L-288.91 275.14 L-192.88 275.14 L-96.85 275.14 L-24.10 269.80 L5.00 269.45 L36.14 269.10 L66.11 268.58 L96.37 267.88 L118.49 266.83 L125.77 265.95 L131.58 265.08 L135.95 264.20 L140.32 263.33 L144.68 262.28 L149.05 260.00 L151.66 248.62 L159.81 187.69 L169.71 105.41 L176.11 100.15 L180.47 100.15 L188.33 100.15 L195.60 100.15 L202.88 100.15 L209.86 100.15 L217.14 100.15 L224.41 100.15 L231.98 100.15" fill="none" stroke="#0000ff" stroke-width="1.45" stroke-linejoin="round"/>
<path d="M-838.90 272.24L-836.30 277.14L-841.50 277.14Z" fill="none" stroke="#0000ff" stroke-width="1.4" stroke-linejoin="miter"/>
<path d="M-659.94 272.24L-657.34 277.14L-662.54 277.14Z" fill="none" stroke="#0000ff" stroke-width="1.4" stroke-linejoin="miter"/>
<path d="M-569.73 272.24L-567.12 277.14L-572.33 277.14Z" fill="none" stroke="#0000ff" stroke-width="1.4" stroke-linejoin="miter"/>
<path d="M-475.15 272.24L-472.55 277.14L-477.75 277.14Z" fill="none" stroke="#0000ff" stroke-width="1.4" stroke-linejoin="miter"/>
<path d="M-382.03 272.24L-379.43 277.14L-384.63 277.14Z" fill="none" stroke="#0000ff" stroke-width="1.4" stroke-linejoin="miter"/>
<path d="M-288.91 272.24L-286.31 277.14L-291.51 277.14Z" fill="none" stroke="#0000ff" stroke-width="1.4" stroke-linejoin="miter"/>
<path d="M-192.88 272.24L-190.28 277.14L-195.48 277.14Z" fill="none" stroke="#0000ff" stroke-width="1.4" stroke-linejoin="miter"/>
<path d="M-96.85 272.24L-94.25 277.14L-99.45 277.14Z" fill="none" stroke="#0000ff" stroke-width="1.4" stroke-linejoin="miter"/>
<path d="M-24.10 266.90L-21.50 271.80L-26.70 271.80Z" fill="none" stroke="#0000ff" stroke-width="1.4" stroke-linejoin="miter"/>
<path d="M5.00 266.55L7.60 271.45L2.40 271.45Z" fill="none" stroke="#0000ff" stroke-width="1.4" stroke-linejoin="miter"/>
<path d="M36.14 266.20L38.74 271.10L33.54 271.10Z" fill="none" stroke="#0000ff" stroke-width="1.4" stroke-linejoin="miter"/>
<path d="M66.11 265.68L68.71 270.58L63.51 270.58Z" fill="none" stroke="#0000ff" stroke-width="1.4" stroke-linejoin="miter"/>
<path d="M96.37 264.98L98.97 269.88L93.77 269.88Z" fill="none" stroke="#0000ff" stroke-width="1.4" stroke-linejoin="miter"/>
<path d="M118.49 263.93L121.09 268.83L115.89 268.83Z" fill="none" stroke="#0000ff" stroke-width="1.4" stroke-linejoin="miter"/>
<path d="M125.77 263.05L128.37 267.95L123.17 267.95Z" fill="none" stroke="#0000ff" stroke-width="1.4" stroke-linejoin="miter"/>
<path d="M131.58 262.18L134.18 267.08L128.98 267.08Z" fill="none" stroke="#0000ff" stroke-width="1.4" stroke-linejoin="miter"/>
<path d="M135.95 261.30L138.55 266.20L133.35 266.20Z" fill="none" stroke="#0000ff" stroke-width="1.4" stroke-linejoin="miter"/>
<path d="M140.32 260.43L142.92 265.33L137.72 265.33Z" fill="none" stroke="#0000ff" stroke-width="1.4" stroke-linejoin="miter"/>
<path d="M144.68 259.38L147.28 264.28L142.08 264.28Z" fill="none" stroke="#0000ff" stroke-width="1.4" stroke-linejoin="miter"/>
<path d="M149.05 257.10L151.65 262.00L146.45 262.00Z" fill="none" stroke="#0000ff" stroke-width="1.4" stroke-linejoin="miter"/>
<path d="M151.66 245.72L154.26 250.62L149.06 250.62Z" fill="none" stroke="#0000ff" stroke-width="1.4" stroke-linejoin="miter"/>
<path d="M159.81 184.79L162.41 189.69L157.21 189.69Z" fill="none" stroke="#0000ff" stroke-width="1.4" stroke-linejoin="miter"/>
<path d="M169.71 102.51L172.31 107.41L167.11 107.41Z" fill="none" stroke="#0000ff" stroke-width="1.4" stroke-linejoin="miter"/>
<path d="M176.11 97.25L178.71 102.15L173.51 102.15Z" fill="none" stroke="#0000ff" stroke-width="1.4" stroke-linejoin="miter"/>
<path d="M180.47 97.25L183.07 102.15L177.87 102.15Z" fill="none" stroke="#0000ff" stroke-width="1.4" stroke-linejoin="miter"/>
<path d="M188.33 97.25L190.93 102.15L185.73 102.15Z" fill="none" stroke="#0000ff" stroke-width="1.4" stroke-linejoin="miter"/>
<path d="M195.60 97.25L198.20 102.15L193.00 102.15Z" fill="none" stroke="#0000ff" stroke-width="1.4" stroke-linejoin="miter"/>
<path d="M202.88 97.25L205.48 102.15L200.28 102.15Z" fill="none" stroke="#0000ff" stroke-width="1.4" stroke-linejoin="miter"/>
<path d="M209.86 97.25L212.46 102.15L207.26 102.15Z" fill="none" stroke="#0000ff" stroke-width="1.4" stroke-linejoin="miter"/>
<path d="M217.14 97.25L219.74 102.15L214.54 102.15Z" fill="none" stroke="#0000ff" stroke-width="1.4" stroke-linejoin="miter"/>
<path d="M224.41 97.25L227.01 102.15L221.81 102.15Z" fill="none" stroke="#0000ff" stroke-width="1.4" stroke-linejoin="miter"/>
<path d="M231.98 97.25L234.58 102.15L229.38 102.15Z" fill="none" stroke="#0000ff" stroke-width="1.4" stroke-linejoin="miter"/>
</g>
<rect x="121.4" y="91.4" width="116.4" height="113.79999999999998" fill="none" stroke="#000" stroke-width="1.0"/>
<path d="M127.22 205.2v-2.5M127.22 91.4v2.5M133.04 205.2v-2.5M133.04 91.4v2.5M138.86 205.2v-2.5M138.86 91.4v2.5M144.68 205.2v-2.5M144.68 91.4v2.5M156.32 205.2v-2.5M156.32 91.4v2.5M162.14 205.2v-2.5M162.14 91.4v2.5M167.96 205.2v-2.5M167.96 91.4v2.5M173.78 205.2v-2.5M173.78 91.4v2.5M185.42 205.2v-2.5M185.42 91.4v2.5M191.24 205.2v-2.5M191.24 91.4v2.5M197.06 205.2v-2.5M197.06 91.4v2.5M202.88 205.2v-2.5M202.88 91.4v2.5M214.52 205.2v-2.5M214.52 91.4v2.5M220.34 205.2v-2.5M220.34 91.4v2.5M226.16 205.2v-2.5M226.16 91.4v2.5M231.98 205.2v-2.5M231.98 91.4v2.5M121.40 205.2v-4.3M121.40 91.4v4.3M150.50 205.2v-4.3M150.50 91.4v4.3M179.60 205.2v-4.3M179.60 91.4v4.3M208.70 205.2v-4.3M208.70 91.4v4.3M237.80 205.2v-4.3M237.80 91.4v4.3M121.4 196.45h2.5M237.8 196.45h-2.5M121.4 187.69h2.5M237.8 187.69h-2.5M121.4 178.94h2.5M237.8 178.94h-2.5M121.4 161.43h2.5M237.8 161.43h-2.5M121.4 152.68h2.5M237.8 152.68h-2.5M121.4 143.92h2.5M237.8 143.92h-2.5M121.4 126.42h2.5M237.8 126.42h-2.5M121.4 117.66h2.5M237.8 117.66h-2.5M121.4 108.91h2.5M237.8 108.91h-2.5M121.4 91.40h2.5M237.8 91.40h-2.5M121.4 100.15h4.3M237.8 100.15h-4.3M121.4 135.17h4.3M237.8 135.17h-4.3M121.4 170.18h4.3M237.8 170.18h-4.3M121.4 205.20h4.3M237.8 205.20h-4.3" stroke="#000" stroke-width="1.0" fill="none"/>
<text x="121.50" y="219.80" font-size="13.5" text-anchor="middle" >90</text>
<text x="150.60" y="219.80" font-size="13.5" text-anchor="middle" >91</text>
<text x="179.70" y="219.80" font-size="13.5" text-anchor="middle" >92</text>
<text x="208.80" y="219.80" font-size="13.5" text-anchor="middle" >93</text>
<text x="237.90" y="219.80" font-size="13.5" text-anchor="middle" >94</text>
<text x="118.60" y="104.35" font-size="13.5" text-anchor="end" >0</text>
<text x="118.60" y="139.37" font-size="13.5" text-anchor="end" >−0.2</text>
<text x="118.60" y="174.38" font-size="13.5" text-anchor="end" >−0.4</text>
<text x="118.60" y="209.40" font-size="13.5" text-anchor="end" >−0.6</text>
<text x="179.80" y="237.80" font-size="14.7" text-anchor="middle" >Temperature (K)</text>
<g transform="translate(90.40 151.50) rotate(-90)">
<text x="-44.66" y="0" font-size="14.7" style="white-space:pre" xml:space="preserve">Normalized (</text>
<path d="M39.47 -6.91L34.62 3.01" stroke="#000" stroke-width="1.03" fill="none"/><path d="M33.66 -5.07C33.74 -6.47 35.21 -7.35 35.87 -5.44L38.07 1.47C38.59 3.23 39.91 3.23 40.20 1.47" stroke="#000" stroke-width="0.85" fill="none" stroke-linecap="round"/>
<text x="39.76" y="0" font-size="14.7">)</text>
</g>
<defs>
<clipPath id="cb"><rect x="423.1" y="9.5" width="288.29999999999995" height="264.1"/></clipPath>
</defs>
<g clip-path="url(#cb)">
<path d="M400.04 264.97 L428.87 264.97 L451.93 264.97 L471.53 258.87 L488.83 263.95 L517.66 176.59 L561.48 70.45 L601.85 266.49 L616.84 267.51 L641.05 264.46 L659.51 260.40 L688.34 266.49 L717.17 263.44" fill="none" stroke="#000000" stroke-width="1.45" stroke-linejoin="round"/>
<circle cx="400.04" cy="264.97" r="2.70" fill="none" stroke="#000000" stroke-width="1.25"/>
<circle cx="428.87" cy="264.97" r="2.70" fill="none" stroke="#000000" stroke-width="1.25"/>
<circle cx="451.93" cy="264.97" r="2.70" fill="none" stroke="#000000" stroke-width="1.25"/>
<circle cx="471.53" cy="258.87" r="2.70" fill="none" stroke="#000000" stroke-width="1.25"/>
<circle cx="488.83" cy="263.95" r="2.70" fill="none" stroke="#000000" stroke-width="1.25"/>
<circle cx="517.66" cy="176.59" r="2.70" fill="none" stroke="#000000" stroke-width="1.25"/>
<circle cx="561.48" cy="70.45" r="2.70" fill="none" stroke="#000000" stroke-width="1.25"/>
<circle cx="601.85" cy="266.49" r="2.70" fill="none" stroke="#000000" stroke-width="1.25"/>
<circle cx="616.84" cy="267.51" r="2.70" fill="none" stroke="#000000" stroke-width="1.25"/>
<circle cx="641.05" cy="264.46" r="2.70" fill="none" stroke="#000000" stroke-width="1.25"/>
<circle cx="659.51" cy="260.40" r="2.70" fill="none" stroke="#000000" stroke-width="1.25"/>
<circle cx="688.34" cy="266.49" r="2.70" fill="none" stroke="#000000" stroke-width="1.25"/>
<circle cx="717.17" cy="263.44" r="2.70" fill="none" stroke="#000000" stroke-width="1.25"/>
<path d="M400.04 263.44 L428.87 263.44 L451.93 262.43 L471.53 263.44 L488.83 260.40 L517.66 244.14 L561.48 196.40 L601.85 39.47 L616.84 263.44 L641.05 263.44 L659.51 263.44 L688.34 263.44 L717.17 263.44" fill="none" stroke="#ff0000" stroke-width="1.45" stroke-linejoin="round"/>
<rect x="397.29" y="260.69" width="5.50" height="5.50" fill="none" stroke="#ff0000" stroke-width="1.25"/>
<rect x="426.12" y="260.69" width="5.50" height="5.50" fill="none" stroke="#ff0000" stroke-width="1.25"/>
<rect x="449.18" y="259.68" width="5.50" height="5.50" fill="none" stroke="#ff0000" stroke-width="1.25"/>
<rect x="468.78" y="260.69" width="5.50" height="5.50" fill="none" stroke="#ff0000" stroke-width="1.25"/>
<rect x="486.08" y="257.65" width="5.50" height="5.50" fill="none" stroke="#ff0000" stroke-width="1.25"/>
<rect x="514.91" y="241.39" width="5.50" height="5.50" fill="none" stroke="#ff0000" stroke-width="1.25"/>
<rect x="558.73" y="193.65" width="5.50" height="5.50" fill="none" stroke="#ff0000" stroke-width="1.25"/>
<rect x="599.10" y="36.72" width="5.50" height="5.50" fill="none" stroke="#ff0000" stroke-width="1.25"/>
<rect x="614.09" y="260.69" width="5.50" height="5.50" fill="none" stroke="#ff0000" stroke-width="1.25"/>
<rect x="638.30" y="260.69" width="5.50" height="5.50" fill="none" stroke="#ff0000" stroke-width="1.25"/>
<rect x="656.76" y="260.69" width="5.50" height="5.50" fill="none" stroke="#ff0000" stroke-width="1.25"/>
<rect x="685.59" y="260.69" width="5.50" height="5.50" fill="none" stroke="#ff0000" stroke-width="1.25"/>
<rect x="714.42" y="260.69" width="5.50" height="5.50" fill="none" stroke="#ff0000" stroke-width="1.25"/>
<path d="M400.04 263.44 L428.87 263.44 L451.93 263.44 L471.53 263.44 L488.83 261.41 L517.66 259.38 L561.48 242.62 L601.85 163.39 L616.84 26.97 L641.05 263.44 L659.51 263.44 L688.34 262.22 L717.17 263.44" fill="none" stroke="#00ff00" stroke-width="1.45" stroke-linejoin="round"/>
<path d="M400.04 260.04L402.89 263.44L400.04 266.84L397.19 263.44Z" fill="#00ff00" stroke="#00ff00" stroke-width="0.4"/>
<path d="M428.87 260.04L431.72 263.44L428.87 266.84L426.02 263.44Z" fill="#00ff00" stroke="#00ff00" stroke-width="0.4"/>
<path d="M451.93 260.04L454.78 263.44L451.93 266.84L449.08 263.44Z" fill="#00ff00" stroke="#00ff00" stroke-width="0.4"/>
<path d="M471.53 260.04L474.38 263.44L471.53 266.84L468.68 263.44Z" fill="#00ff00" stroke="#00ff00" stroke-width="0.4"/>
<path d="M488.83 258.01L491.68 261.41L488.83 264.81L485.98 261.41Z" fill="#00ff00" stroke="#00ff00" stroke-width="0.4"/>
<path d="M517.66 255.98L520.51 259.38L517.66 262.78L514.81 259.38Z" fill="#00ff00" stroke="#00ff00" stroke-width="0.4"/>
<path d="M561.48 239.22L564.33 242.62L561.48 246.02L558.63 242.62Z" fill="#00ff00" stroke="#00ff00" stroke-width="0.4"/>
<path d="M601.85 159.99L604.70 163.39L601.85 166.79L599.00 163.39Z" fill="#00ff00" stroke="#00ff00" stroke-width="0.4"/>
<path d="M616.84 23.57L619.69 26.97L616.84 30.37L613.99 26.97Z" fill="#00ff00" stroke="#00ff00" stroke-width="0.4"/>
<path d="M641.05 260.04L643.90 263.44L641.05 266.84L638.20 263.44Z" fill="#00ff00" stroke="#00ff00" stroke-width="0.4"/>
<path d="M659.51 260.04L662.36 263.44L659.51 266.84L656.66 263.44Z" fill="#00ff00" stroke="#00ff00" stroke-width="0.4"/>
<path d="M688.34 258.82L691.19 262.22L688.34 265.62L685.49 262.22Z" fill="#00ff00" stroke="#00ff00" stroke-width="0.4"/>
<path d="M717.17 260.04L720.02 263.44L717.17 266.84L714.32 263.44Z" fill="#00ff00" stroke="#00ff00" stroke-width="0.4"/>
<path d="M400.04 261.41 L428.87 261.92 L451.93 261.61 L471.53 261.41 L488.83 256.74 L517.66 260.60 L561.48 126.31 L601.85 96.55 L616.84 250.24 L641.05 263.44 L659.51 263.44 L688.34 263.44 L717.17 263.44" fill="none" stroke="#0000ff" stroke-width="1.45" stroke-linejoin="round"/>
<path d="M400.04 258.51L402.64 263.41L397.44 263.41Z" fill="none" stroke="#0000ff" stroke-width="1.4" stroke-linejoin="miter"/>
<path d="M428.87 259.02L431.47 263.92L426.27 263.92Z" fill="none" stroke="#0000ff" stroke-width="1.4" stroke-linejoin="miter"/>
<path d="M451.93 258.71L454.53 263.61L449.33 263.61Z" fill="none" stroke="#0000ff" stroke-width="1.4" stroke-linejoin="miter"/>
<path d="M471.53 258.51L474.13 263.41L468.93 263.41Z" fill="none" stroke="#0000ff" stroke-width="1.4" stroke-linejoin="miter"/>
<path d="M488.83 253.84L491.43 258.74L486.23 258.74Z" fill="none" stroke="#0000ff" stroke-width="1.4" stroke-linejoin="miter"/>
<path d="M517.66 257.70L520.26 262.60L515.06 262.60Z" fill="none" stroke="#0000ff" stroke-width="1.4" stroke-linejoin="miter"/>
<path d="M561.48 123.41L564.08 128.31L558.88 128.31Z" fill="none" stroke="#0000ff" stroke-width="1.4" stroke-linejoin="miter"/>
<path d="M601.85 93.65L604.45 98.55L599.25 98.55Z" fill="none" stroke="#0000ff" stroke-width="1.4" stroke-linejoin="miter"/>
<path d="M616.84 247.34L619.44 252.24L614.24 252.24Z" fill="none" stroke="#0000ff" stroke-width="1.4" stroke-linejoin="miter"/>
<path d="M641.05 260.54L643.65 265.44L638.45 265.44Z" fill="none" stroke="#0000ff" stroke-width="1.4" stroke-linejoin="miter"/>
<path d="M659.51 260.54L662.11 265.44L656.91 265.44Z" fill="none" stroke="#0000ff" stroke-width="1.4" stroke-linejoin="miter"/>
<path d="M688.34 260.54L690.94 265.44L685.74 265.44Z" fill="none" stroke="#0000ff" stroke-width="1.4" stroke-linejoin="miter"/>
<path d="M717.17 260.54L719.77 265.44L714.57 265.44Z" fill="none" stroke="#0000ff" stroke-width="1.4" stroke-linejoin="miter"/>
</g>
<rect x="423.1" y="9.5" width="288.29999999999995" height="264.1" fill="none" stroke="#000" stroke-width="1.0"/>
<path d="M434.63 273.6v-2.8M434.63 9.5v2.8M446.16 273.6v-2.8M446.16 9.5v2.8M457.70 273.6v-2.8M457.70 9.5v2.8M469.23 273.6v-2.8M469.23 9.5v2.8M492.29 273.6v-2.8M492.29 9.5v2.8M503.82 273.6v-2.8M503.82 9.5v2.8M515.36 273.6v-2.8M515.36 9.5v2.8M526.89 273.6v-2.8M526.89 9.5v2.8M549.95 273.6v-2.8M549.95 9.5v2.8M561.48 273.6v-2.8M561.48 9.5v2.8M573.02 273.6v-2.8M573.02 9.5v2.8M584.55 273.6v-2.8M584.55 9.5v2.8M607.61 273.6v-2.8M607.61 9.5v2.8M619.14 273.6v-2.8M619.14 9.5v2.8M630.68 273.6v-2.8M630.68 9.5v2.8M642.21 273.6v-2.8M642.21 9.5v2.8M665.27 273.6v-2.8M665.27 9.5v2.8M676.80 273.6v-2.8M676.80 9.5v2.8M688.34 273.6v-2.8M688.34 9.5v2.8M699.87 273.6v-2.8M699.87 9.5v2.8M423.10 273.6v-4.7M423.10 9.5v4.7M480.76 273.6v-4.7M480.76 9.5v4.7M538.42 273.6v-4.7M538.42 9.5v4.7M596.08 273.6v-4.7M596.08 9.5v4.7M653.74 273.6v-4.7M653.74 9.5v4.7M711.40 273.6v-4.7M711.40 9.5v4.7M423.1 273.60h2.8M711.4 273.60h-2.8M423.1 253.28h2.8M711.4 253.28h-2.8M423.1 243.13h2.8M711.4 243.13h-2.8M423.1 232.97h2.8M711.4 232.97h-2.8M423.1 222.81h2.8M711.4 222.81h-2.8M423.1 202.50h2.8M711.4 202.50h-2.8M423.1 192.34h2.8M711.4 192.34h-2.8M423.1 182.18h2.8M711.4 182.18h-2.8M423.1 172.02h2.8M711.4 172.02h-2.8M423.1 151.71h2.8M711.4 151.71h-2.8M423.1 141.55h2.8M711.4 141.55h-2.8M423.1 131.39h2.8M711.4 131.39h-2.8M423.1 121.23h2.8M711.4 121.23h-2.8M423.1 100.92h2.8M711.4 100.92h-2.8M423.1 90.76h2.8M711.4 90.76h-2.8M423.1 80.60h2.8M711.4 80.60h-2.8M423.1 70.45h2.8M711.4 70.45h-2.8M423.1 50.13h2.8M711.4 50.13h-2.8M423.1 39.97h2.8M711.4 39.97h-2.8M423.1 29.82h2.8M711.4 29.82h-2.8M423.1 19.66h2.8M711.4 19.66h-2.8M423.1 263.44h4.7M711.4 263.44h-4.7M423.1 212.65h4.7M711.4 212.65h-4.7M423.1 161.87h4.7M711.4 161.87h-4.7M423.1 111.08h4.7M711.4 111.08h-4.7M423.1 60.29h4.7M711.4 60.29h-4.7M423.1 9.50h4.7M711.4 9.50h-4.7" stroke="#000" stroke-width="1.0" fill="none"/>
<text x="423.10" y="291.60" font-size="16" text-anchor="middle" >90</text>
<text x="480.76" y="291.60" font-size="16" text-anchor="middle" >90.5</text>
<text x="538.42" y="291.60" font-size="16" text-anchor="middle" >91</text>
<text x="596.08" y="291.60" font-size="16" text-anchor="middle" >91.5</text>
<text x="653.74" y="291.60" font-size="16" text-anchor="middle" >92</text>
<text x="711.40" y="291.60" font-size="16" text-anchor="middle" >92.5</text>
<text x="419.60" y="268.74" font-size="16" text-anchor="end" >0</text>
<text x="419.60" y="217.95" font-size="16" text-anchor="end" >0.5</text>
<text x="419.60" y="167.17" font-size="16" text-anchor="end" >1</text>
<text x="419.60" y="116.38" font-size="16" text-anchor="end" >1.5</text>
<text x="419.60" y="65.59" font-size="16" text-anchor="end" >2</text>
<text x="419.60" y="14.80" font-size="16" text-anchor="end" >2.5</text>
<text x="570.05" y="312.80" font-size="17.5" text-anchor="middle" >Temperature (K)</text>
<g transform="translate(395.00 136.90) rotate(-90)">
<text x="-20.50" y="0" font-size="17.6" style="white-space:pre" xml:space="preserve">d</text>
<path d="M-4.30 -8.27L-10.11 3.61" stroke="#000" stroke-width="1.23" fill="none"/><path d="M-11.26 -6.07C-11.17 -7.74 -9.41 -8.80 -8.62 -6.51L-5.98 1.76C-5.36 3.87 -3.78 3.87 -3.42 1.76" stroke="#000" stroke-width="1.02" fill="none" stroke-linecap="round"/>
<text x="-3.95" y="0" font-size="17.6">/dT</text>
</g>
<text x="375.50" y="15.90" font-size="17.6" text-anchor="start" >(b)</text>
<rect x="432.1" y="18.2" width="95.0" height="72.1" fill="#fff" stroke="#000" stroke-width="1"/>
<path d="M437.0 30.3H459.1" stroke="#000000" stroke-width="1.45"/>
<circle cx="448.10" cy="30.30" r="2.70" fill="none" stroke="#000000" stroke-width="1.25"/>
<text x="464.00" y="35.20" font-size="14.6" text-anchor="start" >Y100</text>
<path d="M437.0 46.9H459.1" stroke="#ff0000" stroke-width="1.45"/>
<rect x="445.35" y="44.15" width="5.50" height="5.50" fill="none" stroke="#ff0000" stroke-width="1.25"/>
<text x="464.00" y="51.80" font-size="14.6" text-anchor="start" >Y80Gd20</text>
<path d="M437.0 63.3H459.1" stroke="#00ff00" stroke-width="1.45"/>
<path d="M448.10 59.90L450.95 63.30L448.10 66.70L445.25 63.30Z" fill="#00ff00" stroke="#00ff00" stroke-width="0.4"/>
<text x="464.00" y="68.20" font-size="14.6" text-anchor="start" >Y75Gd25</text>
<path d="M437.0 80.2H459.1" stroke="#0000ff" stroke-width="1.45"/>
<path d="M448.10 77.30L450.70 82.20L445.50 82.20Z" fill="none" stroke="#0000ff" stroke-width="1.4" stroke-linejoin="miter"/>
<text x="464.00" y="85.10" font-size="14.6" text-anchor="start" >Y70Gd30</text>
<defs>
<clipPath id="cc"><rect x="246.9" y="357.0" width="289.80000000000007" height="264.5"/></clipPath>
</defs>
<g clip-path="url(#cc)">
</g>
<rect x="246.9" y="357.0" width="289.80000000000007" height="264.5" fill="none" stroke="#3a3a3a" stroke-width="1.3"/>
<g clip-path="url(#cc)">
<path d="M248.48 459.10 L251.43 494.01 L254.28 517.29 L256.91 531.57 L262.18 544.79 L267.45 554.85 L273.25 562.25 L279.04 565.43 L283.78 568.60 L289.05 570.72 L294.32 572.30 L299.59 573.89 L310.13 575.48 L320.67 576.91 L331.21 580.24 L341.74 584.47 L352.28 590.08 L362.82 594.26 L373.36 602.46 L383.90 605.10 L394.43 608.27 L404.97 614.89 L415.51 615.68 L426.05 619.70 L436.59 620.97 L447.13 621.50 L457.66 621.50 L468.20 621.50 L478.74 621.50 L489.28 621.50 L499.82 621.50" fill="none" stroke="#000000" stroke-width="1.7" stroke-linejoin="round"/>
<circle cx="248.48" cy="459.10" r="2.45" fill="none" stroke="#000000" stroke-width="1.25"/>
<circle cx="251.43" cy="494.01" r="2.45" fill="none" stroke="#000000" stroke-width="1.25"/>
<circle cx="254.28" cy="517.29" r="2.45" fill="none" stroke="#000000" stroke-width="1.25"/>
<circle cx="256.91" cy="531.57" r="2.45" fill="none" stroke="#000000" stroke-width="1.25"/>
<circle cx="262.18" cy="544.79" r="2.45" fill="none" stroke="#000000" stroke-width="1.25"/>
<circle cx="267.45" cy="554.85" r="2.45" fill="none" stroke="#000000" stroke-width="1.25"/>
<circle cx="273.25" cy="562.25" r="2.45" fill="none" stroke="#000000" stroke-width="1.25"/>
<circle cx="279.04" cy="565.43" r="2.45" fill="none" stroke="#000000" stroke-width="1.25"/>
<circle cx="283.78" cy="568.60" r="2.45" fill="none" stroke="#000000" stroke-width="1.25"/>
<circle cx="289.05" cy="570.72" r="2.45" fill="none" stroke="#000000" stroke-width="1.25"/>
<circle cx="294.32" cy="572.30" r="2.45" fill="none" stroke="#000000" stroke-width="1.25"/>
<circle cx="299.59" cy="573.89" r="2.45" fill="none" stroke="#000000" stroke-width="1.25"/>
<circle cx="310.13" cy="575.48" r="2.45" fill="none" stroke="#000000" stroke-width="1.25"/>
<circle cx="320.67" cy="576.91" r="2.45" fill="none" stroke="#000000" stroke-width="1.25"/>
<circle cx="331.21" cy="580.24" r="2.45" fill="none" stroke="#000000" stroke-width="1.25"/>
<circle cx="341.74" cy="584.47" r="2.45" fill="none" stroke="#000000" stroke-width="1.25"/>
<circle cx="352.28" cy="590.08" r="2.45" fill="none" stroke="#000000" stroke-width="1.25"/>
<circle cx="362.82" cy="594.26" r="2.45" fill="none" stroke="#000000" stroke-width="1.25"/>
<circle cx="373.36" cy="602.46" r="2.45" fill="none" stroke="#000000" stroke-width="1.25"/>
<circle cx="383.90" cy="605.10" r="2.45" fill="none" stroke="#000000" stroke-width="1.25"/>
<circle cx="394.43" cy="608.27" r="2.45" fill="none" stroke="#000000" stroke-width="1.25"/>
<circle cx="404.97" cy="614.89" r="2.45" fill="none" stroke="#000000" stroke-width="1.25"/>
<circle cx="415.51" cy="615.68" r="2.45" fill="none" stroke="#000000" stroke-width="1.25"/>
<circle cx="426.05" cy="619.70" r="2.45" fill="none" stroke="#000000" stroke-width="1.25"/>
<circle cx="436.59" cy="620.97" r="2.45" fill="none" stroke="#000000" stroke-width="1.25"/>
<circle cx="447.13" cy="621.50" r="2.45" fill="none" stroke="#000000" stroke-width="1.25"/>
<circle cx="457.66" cy="621.50" r="2.45" fill="none" stroke="#000000" stroke-width="1.25"/>
<circle cx="468.20" cy="621.50" r="2.45" fill="none" stroke="#000000" stroke-width="1.25"/>
<circle cx="478.74" cy="621.50" r="2.45" fill="none" stroke="#000000" stroke-width="1.25"/>
<circle cx="489.28" cy="621.50" r="2.45" fill="none" stroke="#000000" stroke-width="1.25"/>
<circle cx="499.82" cy="621.50" r="2.45" fill="none" stroke="#000000" stroke-width="1.25"/>
<path d="M249.90 401.44 L253.75 451.16 L255.86 484.49 L258.49 500.89 L263.23 526.28 L269.03 539.50 L273.77 550.09 L279.04 556.43 L284.31 561.72 L289.05 564.37 L294.32 567.01 L299.59 570.19 L310.13 575.11 L320.67 577.70 L331.21 581.30 L341.74 586.06 L352.28 589.76 L362.82 594.73 L373.36 599.28 L383.90 601.93 L394.43 603.51 L404.97 607.48 L415.51 610.13 L426.05 612.61 L436.59 615.89 L447.13 617.80 L457.66 619.38 L468.20 620.18 L478.74 620.97 L489.28 621.50 L499.82 621.50" fill="none" stroke="#ff0000" stroke-width="1.7" stroke-linejoin="round"/>
<rect x="247.45" y="398.99" width="4.90" height="4.90" fill="none" stroke="#ff0000" stroke-width="1.25"/>
<rect x="251.30" y="448.71" width="4.90" height="4.90" fill="none" stroke="#ff0000" stroke-width="1.25"/>
<rect x="253.41" y="482.04" width="4.90" height="4.90" fill="none" stroke="#ff0000" stroke-width="1.25"/>
<rect x="256.04" y="498.44" width="4.90" height="4.90" fill="none" stroke="#ff0000" stroke-width="1.25"/>
<rect x="260.78" y="523.83" width="4.90" height="4.90" fill="none" stroke="#ff0000" stroke-width="1.25"/>
<rect x="266.58" y="537.05" width="4.90" height="4.90" fill="none" stroke="#ff0000" stroke-width="1.25"/>
<rect x="271.32" y="547.63" width="4.90" height="4.90" fill="none" stroke="#ff0000" stroke-width="1.25"/>
<rect x="276.59" y="553.98" width="4.90" height="4.90" fill="none" stroke="#ff0000" stroke-width="1.25"/>
<rect x="281.86" y="559.27" width="4.90" height="4.90" fill="none" stroke="#ff0000" stroke-width="1.25"/>
<rect x="286.60" y="561.92" width="4.90" height="4.90" fill="none" stroke="#ff0000" stroke-width="1.25"/>
<rect x="291.87" y="564.56" width="4.90" height="4.90" fill="none" stroke="#ff0000" stroke-width="1.25"/>
<rect x="297.14" y="567.74" width="4.90" height="4.90" fill="none" stroke="#ff0000" stroke-width="1.25"/>
<rect x="307.68" y="572.66" width="4.90" height="4.90" fill="none" stroke="#ff0000" stroke-width="1.25"/>
<rect x="318.22" y="575.25" width="4.90" height="4.90" fill="none" stroke="#ff0000" stroke-width="1.25"/>
<rect x="328.76" y="578.85" width="4.90" height="4.90" fill="none" stroke="#ff0000" stroke-width="1.25"/>
<rect x="339.29" y="583.61" width="4.90" height="4.90" fill="none" stroke="#ff0000" stroke-width="1.25"/>
<rect x="349.83" y="587.31" width="4.90" height="4.90" fill="none" stroke="#ff0000" stroke-width="1.25"/>
<rect x="360.37" y="592.28" width="4.90" height="4.90" fill="none" stroke="#ff0000" stroke-width="1.25"/>
<rect x="370.91" y="596.83" width="4.90" height="4.90" fill="none" stroke="#ff0000" stroke-width="1.25"/>
<rect x="381.45" y="599.48" width="4.90" height="4.90" fill="none" stroke="#ff0000" stroke-width="1.25"/>
<rect x="391.98" y="601.06" width="4.90" height="4.90" fill="none" stroke="#ff0000" stroke-width="1.25"/>
<rect x="402.52" y="605.03" width="4.90" height="4.90" fill="none" stroke="#ff0000" stroke-width="1.25"/>
<rect x="413.06" y="607.68" width="4.90" height="4.90" fill="none" stroke="#ff0000" stroke-width="1.25"/>
<rect x="423.60" y="610.16" width="4.90" height="4.90" fill="none" stroke="#ff0000" stroke-width="1.25"/>
<rect x="434.14" y="613.44" width="4.90" height="4.90" fill="none" stroke="#ff0000" stroke-width="1.25"/>
<rect x="444.68" y="615.35" width="4.90" height="4.90" fill="none" stroke="#ff0000" stroke-width="1.25"/>
<rect x="455.21" y="616.93" width="4.90" height="4.90" fill="none" stroke="#ff0000" stroke-width="1.25"/>
<rect x="465.75" y="617.73" width="4.90" height="4.90" fill="none" stroke="#ff0000" stroke-width="1.25"/>
<rect x="476.29" y="618.52" width="4.90" height="4.90" fill="none" stroke="#ff0000" stroke-width="1.25"/>
<rect x="486.83" y="619.05" width="4.90" height="4.90" fill="none" stroke="#ff0000" stroke-width="1.25"/>
<rect x="497.37" y="619.05" width="4.90" height="4.90" fill="none" stroke="#ff0000" stroke-width="1.25"/>
<path d="M247.95 371.28 L250.59 409.90 L254.28 450.63 L255.86 482.37 L259.02 503.53 L263.23 528.92 L268.50 546.38 L273.25 556.96 L278.51 564.90 L283.26 569.66 L288.00 573.10 L293.79 575.48 L299.59 577.86 L310.13 581.88 L320.67 585.00 L331.21 587.70 L341.74 590.55 L352.28 591.88 L362.82 593.99 L373.36 598.22 L383.90 600.02 L394.43 603.36 L404.97 606.69 L415.51 608.27 L426.05 610.39 L436.59 611.98 L447.13 612.77 L457.66 614.25 L468.20 615.95 L478.74 617.00 L489.28 618.33 L499.82 619.38 L510.35 620.44" fill="none" stroke="#00ff00" stroke-width="1.7" stroke-linejoin="round"/>
<path d="M247.95 367.98L250.30 371.28L247.95 374.58L245.60 371.28Z" fill="none" stroke="#00ff00" stroke-width="1.5"/>
<path d="M250.59 406.60L252.94 409.90L250.59 413.20L248.24 409.90Z" fill="none" stroke="#00ff00" stroke-width="1.5"/>
<path d="M254.28 447.33L256.63 450.63L254.28 453.93L251.93 450.63Z" fill="none" stroke="#00ff00" stroke-width="1.5"/>
<path d="M255.86 479.07L258.21 482.37L255.86 485.67L253.51 482.37Z" fill="none" stroke="#00ff00" stroke-width="1.5"/>
<path d="M259.02 500.23L261.37 503.53L259.02 506.83L256.67 503.53Z" fill="none" stroke="#00ff00" stroke-width="1.5"/>
<path d="M263.23 525.62L265.58 528.92L263.23 532.22L260.88 528.92Z" fill="none" stroke="#00ff00" stroke-width="1.5"/>
<path d="M268.50 543.08L270.85 546.38L268.50 549.68L266.15 546.38Z" fill="none" stroke="#00ff00" stroke-width="1.5"/>
<path d="M273.25 553.66L275.60 556.96L273.25 560.26L270.90 556.96Z" fill="none" stroke="#00ff00" stroke-width="1.5"/>
<path d="M278.51 561.60L280.86 564.90L278.51 568.20L276.16 564.90Z" fill="none" stroke="#00ff00" stroke-width="1.5"/>
<path d="M283.26 566.36L285.61 569.66L283.26 572.96L280.91 569.66Z" fill="none" stroke="#00ff00" stroke-width="1.5"/>
<path d="M288.00 569.80L290.35 573.10L288.00 576.40L285.65 573.10Z" fill="none" stroke="#00ff00" stroke-width="1.5"/>
<path d="M293.79 572.18L296.14 575.48L293.79 578.78L291.44 575.48Z" fill="none" stroke="#00ff00" stroke-width="1.5"/>
<path d="M299.59 574.56L301.94 577.86L299.59 581.16L297.24 577.86Z" fill="none" stroke="#00ff00" stroke-width="1.5"/>
<path d="M310.13 578.58L312.48 581.88L310.13 585.18L307.78 581.88Z" fill="none" stroke="#00ff00" stroke-width="1.5"/>
<path d="M320.67 581.70L323.02 585.00L320.67 588.30L318.32 585.00Z" fill="none" stroke="#00ff00" stroke-width="1.5"/>
<path d="M331.21 584.40L333.56 587.70L331.21 591.00L328.86 587.70Z" fill="none" stroke="#00ff00" stroke-width="1.5"/>
<path d="M341.74 587.25L344.09 590.55L341.74 593.85L339.39 590.55Z" fill="none" stroke="#00ff00" stroke-width="1.5"/>
<path d="M352.28 588.58L354.63 591.88L352.28 595.18L349.93 591.88Z" fill="none" stroke="#00ff00" stroke-width="1.5"/>
<path d="M362.82 590.69L365.17 593.99L362.82 597.29L360.47 593.99Z" fill="none" stroke="#00ff00" stroke-width="1.5"/>
<path d="M373.36 594.92L375.71 598.22L373.36 601.52L371.01 598.22Z" fill="none" stroke="#00ff00" stroke-width="1.5"/>
<path d="M383.90 596.72L386.25 600.02L383.90 603.32L381.55 600.02Z" fill="none" stroke="#00ff00" stroke-width="1.5"/>
<path d="M394.43 600.06L396.78 603.36L394.43 606.66L392.08 603.36Z" fill="none" stroke="#00ff00" stroke-width="1.5"/>
<path d="M404.97 603.39L407.32 606.69L404.97 609.99L402.62 606.69Z" fill="none" stroke="#00ff00" stroke-width="1.5"/>
<path d="M415.51 604.98L417.86 608.27L415.51 611.57L413.16 608.27Z" fill="none" stroke="#00ff00" stroke-width="1.5"/>
<path d="M426.05 607.09L428.40 610.39L426.05 613.69L423.70 610.39Z" fill="none" stroke="#00ff00" stroke-width="1.5"/>
<path d="M436.59 608.68L438.94 611.98L436.59 615.28L434.24 611.98Z" fill="none" stroke="#00ff00" stroke-width="1.5"/>
<path d="M447.13 609.47L449.48 612.77L447.13 616.07L444.78 612.77Z" fill="none" stroke="#00ff00" stroke-width="1.5"/>
<path d="M457.66 610.95L460.01 614.25L457.66 617.55L455.31 614.25Z" fill="none" stroke="#00ff00" stroke-width="1.5"/>
<path d="M468.20 612.65L470.55 615.95L468.20 619.25L465.85 615.95Z" fill="none" stroke="#00ff00" stroke-width="1.5"/>
<path d="M478.74 613.70L481.09 617.00L478.74 620.30L476.39 617.00Z" fill="none" stroke="#00ff00" stroke-width="1.5"/>
<path d="M489.28 615.03L491.63 618.33L489.28 621.63L486.93 618.33Z" fill="none" stroke="#00ff00" stroke-width="1.5"/>
<path d="M499.82 616.08L502.17 619.38L499.82 622.68L497.47 619.38Z" fill="none" stroke="#00ff00" stroke-width="1.5"/>
<path d="M510.35 617.14L512.70 620.44L510.35 623.74L508.00 620.44Z" fill="none" stroke="#00ff00" stroke-width="1.5"/>
<path d="M247.95 423.12 L250.06 440.58 L251.54 476.55 L255.07 498.77 L257.44 516.23 L262.18 537.39 L267.45 549.56 L272.72 557.49 L277.99 563.31 L283.78 567.01 L289.05 569.66 L294.32 571.25 L299.59 571.09 L310.13 576.01 L320.67 576.53 L331.21 577.59 L341.74 580.24 L352.28 582.88 L362.82 586.59 L373.36 591.88 L383.90 594.26 L394.43 602.46 L404.97 603.51 L415.51 606.53 L426.05 609.86 L436.59 613.41 L447.13 614.25 L457.66 616.74 L468.20 618.70 L478.74 619.70 L489.28 619.91 L499.82 620.71" fill="none" stroke="#0000ff" stroke-width="1.7" stroke-linejoin="round"/>
<path d="M247.95 419.82L250.65 425.02L245.25 425.02Z" fill="none" stroke="#0000ff" stroke-width="1.4" stroke-linejoin="miter"/>
<path d="M250.06 437.28L252.76 442.48L247.36 442.48Z" fill="none" stroke="#0000ff" stroke-width="1.4" stroke-linejoin="miter"/>
<path d="M251.54 473.25L254.24 478.45L248.84 478.45Z" fill="none" stroke="#0000ff" stroke-width="1.4" stroke-linejoin="miter"/>
<path d="M255.07 495.47L257.77 500.67L252.37 500.67Z" fill="none" stroke="#0000ff" stroke-width="1.4" stroke-linejoin="miter"/>
<path d="M257.44 512.93L260.14 518.13L254.74 518.13Z" fill="none" stroke="#0000ff" stroke-width="1.4" stroke-linejoin="miter"/>
<path d="M262.18 534.09L264.88 539.29L259.48 539.29Z" fill="none" stroke="#0000ff" stroke-width="1.4" stroke-linejoin="miter"/>
<path d="M267.45 546.26L270.15 551.46L264.75 551.46Z" fill="none" stroke="#0000ff" stroke-width="1.4" stroke-linejoin="miter"/>
<path d="M272.72 554.19L275.42 559.39L270.02 559.39Z" fill="none" stroke="#0000ff" stroke-width="1.4" stroke-linejoin="miter"/>
<path d="M277.99 560.01L280.69 565.21L275.29 565.21Z" fill="none" stroke="#0000ff" stroke-width="1.4" stroke-linejoin="miter"/>
<path d="M283.78 563.71L286.48 568.91L281.08 568.91Z" fill="none" stroke="#0000ff" stroke-width="1.4" stroke-linejoin="miter"/>
<path d="M289.05 566.36L291.75 571.56L286.35 571.56Z" fill="none" stroke="#0000ff" stroke-width="1.4" stroke-linejoin="miter"/>
<path d="M294.32 567.95L297.02 573.14L291.62 573.14Z" fill="none" stroke="#0000ff" stroke-width="1.4" stroke-linejoin="miter"/>
<path d="M299.59 567.79L302.29 572.99L296.89 572.99Z" fill="none" stroke="#0000ff" stroke-width="1.4" stroke-linejoin="miter"/>
<path d="M310.13 572.71L312.83 577.91L307.43 577.91Z" fill="none" stroke="#0000ff" stroke-width="1.4" stroke-linejoin="miter"/>
<path d="M320.67 573.24L323.37 578.43L317.97 578.43Z" fill="none" stroke="#0000ff" stroke-width="1.4" stroke-linejoin="miter"/>
<path d="M331.21 574.29L333.91 579.49L328.51 579.49Z" fill="none" stroke="#0000ff" stroke-width="1.4" stroke-linejoin="miter"/>
<path d="M341.74 576.94L344.44 582.14L339.04 582.14Z" fill="none" stroke="#0000ff" stroke-width="1.4" stroke-linejoin="miter"/>
<path d="M352.28 579.58L354.98 584.78L349.58 584.78Z" fill="none" stroke="#0000ff" stroke-width="1.4" stroke-linejoin="miter"/>
<path d="M362.82 583.29L365.52 588.49L360.12 588.49Z" fill="none" stroke="#0000ff" stroke-width="1.4" stroke-linejoin="miter"/>
<path d="M373.36 588.58L376.06 593.78L370.66 593.78Z" fill="none" stroke="#0000ff" stroke-width="1.4" stroke-linejoin="miter"/>
<path d="M383.90 590.96L386.60 596.16L381.20 596.16Z" fill="none" stroke="#0000ff" stroke-width="1.4" stroke-linejoin="miter"/>
<path d="M394.43 599.16L397.13 604.36L391.73 604.36Z" fill="none" stroke="#0000ff" stroke-width="1.4" stroke-linejoin="miter"/>
<path d="M404.97 600.21L407.67 605.41L402.27 605.41Z" fill="none" stroke="#0000ff" stroke-width="1.4" stroke-linejoin="miter"/>
<path d="M415.51 603.23L418.21 608.43L412.81 608.43Z" fill="none" stroke="#0000ff" stroke-width="1.4" stroke-linejoin="miter"/>
<path d="M426.05 606.56L428.75 611.76L423.35 611.76Z" fill="none" stroke="#0000ff" stroke-width="1.4" stroke-linejoin="miter"/>
<path d="M436.59 610.11L439.29 615.31L433.89 615.31Z" fill="none" stroke="#0000ff" stroke-width="1.4" stroke-linejoin="miter"/>
<path d="M447.13 610.95L449.83 616.15L444.43 616.15Z" fill="none" stroke="#0000ff" stroke-width="1.4" stroke-linejoin="miter"/>
<path d="M457.66 613.44L460.36 618.64L454.96 618.64Z" fill="none" stroke="#0000ff" stroke-width="1.4" stroke-linejoin="miter"/>
<path d="M468.20 615.40L470.90 620.60L465.50 620.60Z" fill="none" stroke="#0000ff" stroke-width="1.4" stroke-linejoin="miter"/>
<path d="M478.74 616.40L481.44 621.60L476.04 621.60Z" fill="none" stroke="#0000ff" stroke-width="1.4" stroke-linejoin="miter"/>
<path d="M489.28 616.61L491.98 621.81L486.58 621.81Z" fill="none" stroke="#0000ff" stroke-width="1.4" stroke-linejoin="miter"/>
<path d="M499.82 617.41L502.52 622.61L497.12 622.61Z" fill="none" stroke="#0000ff" stroke-width="1.4" stroke-linejoin="miter"/>
</g>
<path d="M273.25 621.5v-3.2M273.25 357.0v3.2M299.59 621.5v-5.0M299.59 357.0v4.0M325.94 621.5v-3.2M325.94 357.0v3.2M352.28 621.5v-5.0M352.28 357.0v4.0M378.63 621.5v-3.2M378.63 357.0v3.2M404.97 621.5v-5.0M404.97 357.0v4.0M431.32 621.5v-3.2M431.32 357.0v3.2M457.66 621.5v-5.0M457.66 357.0v4.0M484.01 621.5v-3.2M484.01 357.0v3.2M510.35 621.5v-5.0M510.35 357.0v4.0M246.9 621.50h-5.0M246.9 595.05h-3.0M536.7 595.05h-3.0M246.9 568.60h-5.0M536.7 568.60h-4.2M246.9 542.15h-3.0M536.7 542.15h-3.0M246.9 515.70h-5.0M536.7 515.70h-4.2M246.9 489.25h-3.0M536.7 489.25h-3.0M246.9 462.80h-5.0M536.7 462.80h-4.2M246.9 436.35h-3.0M536.7 436.35h-3.0M246.9 409.90h-5.0M536.7 409.90h-4.2M246.9 383.45h-3.0M536.7 383.45h-3.0M246.9 357.00h-5.0" stroke="#3a3a3a" stroke-width="1.1" fill="none"/>
<text x="247.20" y="638.50" font-size="16" text-anchor="middle" >0</text>
<text x="240.30" y="626.50" font-size="16" text-anchor="end" >0</text>
<text x="299.89" y="638.50" font-size="16" text-anchor="middle" >1</text>
<text x="240.30" y="573.60" font-size="16" text-anchor="end" >1</text>
<text x="352.58" y="638.50" font-size="16" text-anchor="middle" >2</text>
<text x="240.30" y="520.70" font-size="16" text-anchor="end" >2</text>
<text x="405.27" y="638.50" font-size="16" text-anchor="middle" >3</text>
<text x="240.30" y="467.80" font-size="16" text-anchor="end" >3</text>
<text x="457.96" y="638.50" font-size="16" text-anchor="middle" >4</text>
<text x="240.30" y="414.90" font-size="16" text-anchor="end" >4</text>
<text x="510.65" y="638.50" font-size="16" text-anchor="middle" >5</text>
<text x="240.30" y="362.00" font-size="16" text-anchor="end" >5</text>
<text x="392.00" y="660.90" font-size="17.5" text-anchor="middle" >μ<tspan font-size="12" dy="2.5">0</tspan><tspan dy="-2.5">H</tspan><tspan font-size="12" dy="2.5">a</tspan><tspan dy="-2.5"> (T)</tspan></text>
<text transform="translate(226.5 488.7) rotate(-90)" font-size="17.5" text-anchor="middle">J<tspan font-size="12" dy="2.5">C</tspan><tspan dy="-2.5"> (10</tspan><tspan font-size="12" dy="-6">4</tspan><tspan dy="6"> A cm</tspan><tspan font-size="12" dy="-6">-2</tspan><tspan dy="6">)</tspan></text>
<text x="210.70" y="359.80" font-size="17.6" text-anchor="start" >(c)</text>
<text x="393.90" y="576.40" font-size="14.95" text-anchor="start" >H||c-axis at 77 K</text>
<rect x="424.2" y="366.5" width="95.19999999999999" height="71.39999999999998" fill="#fff" stroke="#222" stroke-width="1"/>
<path d="M429.0 377.9H451.8" stroke="#000000" stroke-width="1.7"/>
<circle cx="440.30" cy="377.90" r="2.45" fill="none" stroke="#000000" stroke-width="1.25"/>
<text x="456.30" y="382.80" font-size="14.6" text-anchor="start" >Y100</text>
<path d="M429.0 394.5H451.8" stroke="#ff0000" stroke-width="1.7"/>
<rect x="437.85" y="392.05" width="4.90" height="4.90" fill="none" stroke="#ff0000" stroke-width="1.25"/>
<text x="456.30" y="399.40" font-size="14.6" text-anchor="start" >Y80Gd20</text>
<path d="M429.0 411.4H451.8" stroke="#00ff00" stroke-width="1.7"/>
<path d="M440.30 408.10L442.65 411.40L440.30 414.70L437.95 411.40Z" fill="none" stroke="#00ff00" stroke-width="1.5"/>
<text x="456.30" y="416.30" font-size="14.6" text-anchor="start" >Y75Gd25</text>
<path d="M429.0 428.4H451.8" stroke="#0000ff" stroke-width="1.7"/>
<path d="M440.30 425.10L443.00 430.30L437.60 430.30Z" fill="none" stroke="#0000ff" stroke-width="1.4" stroke-linejoin="miter"/>
<text x="456.30" y="433.30" font-size="14.6" text-anchor="start" >Y70Gd30</text>
</g></svg></body></html>
